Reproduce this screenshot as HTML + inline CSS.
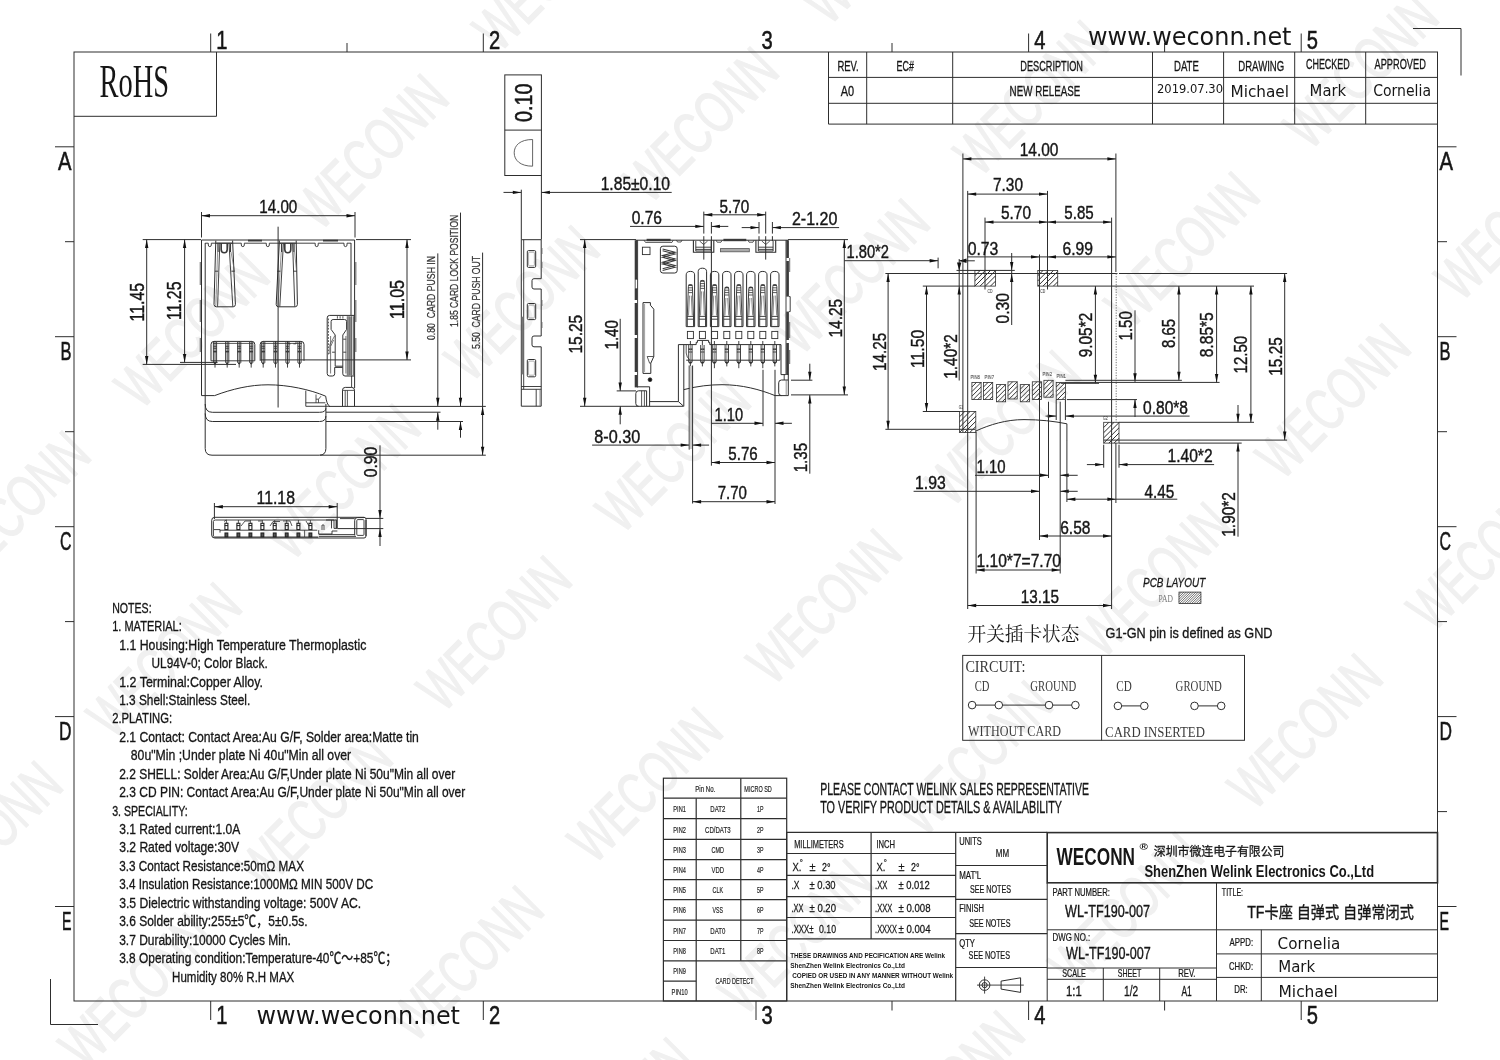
<!DOCTYPE html>
<html lang="en"><head><meta charset="utf-8"><title>WL-TF190-007 TF card socket drawing</title>
<style>html,body{margin:0;padding:0;background:#fff}body{width:1500px;height:1060px;overflow:hidden}svg{display:block;will-change:transform}text{white-space:pre}</style>
</head><body>
<svg width="1500" height="1060" viewBox="0 0 1500 1060">
<rect width="1500" height="1060" fill="#fff"/>
<g font-family='"Liberation Sans", sans-serif' font-size="60" fill="#f0f0f0" stroke="#f0f0f0" stroke-width="1.3" text-anchor="middle">
<text transform="translate(549.6 -27.3) rotate(-45)" x="0" y="21.5" textLength="186" lengthAdjust="spacingAndGlyphs">WECONN</text>
<text transform="translate(370.6 151.2) rotate(-45)" x="0" y="21.5" textLength="186" lengthAdjust="spacingAndGlyphs">WECONN</text>
<text transform="translate(191.6 329.7) rotate(-45)" x="0" y="21.5" textLength="186" lengthAdjust="spacingAndGlyphs">WECONN</text>
<text transform="translate(12.6 508.2) rotate(-45)" x="0" y="21.5" textLength="186" lengthAdjust="spacingAndGlyphs">WECONN</text>
<text transform="translate(879.6 -54.2) rotate(-45)" x="0" y="21.5" textLength="186" lengthAdjust="spacingAndGlyphs">WECONN</text>
<text transform="translate(700.6 124.3) rotate(-45)" x="0" y="21.5" textLength="186" lengthAdjust="spacingAndGlyphs">WECONN</text>
<text transform="translate(521.6 302.8) rotate(-45)" x="0" y="21.5" textLength="186" lengthAdjust="spacingAndGlyphs">WECONN</text>
<text transform="translate(342.6 481.3) rotate(-45)" x="0" y="21.5" textLength="186" lengthAdjust="spacingAndGlyphs">WECONN</text>
<text transform="translate(163.6 659.8) rotate(-45)" x="0" y="21.5" textLength="186" lengthAdjust="spacingAndGlyphs">WECONN</text>
<text transform="translate(-15.4 838.3) rotate(-45)" x="0" y="21.5" textLength="186" lengthAdjust="spacingAndGlyphs">WECONN</text>
<text transform="translate(1209.6 -81.1) rotate(-45)" x="0" y="21.5" textLength="186" lengthAdjust="spacingAndGlyphs">WECONN</text>
<text transform="translate(1030.6 97.4) rotate(-45)" x="0" y="21.5" textLength="186" lengthAdjust="spacingAndGlyphs">WECONN</text>
<text transform="translate(851.6 275.9) rotate(-45)" x="0" y="21.5" textLength="186" lengthAdjust="spacingAndGlyphs">WECONN</text>
<text transform="translate(672.6 454.4) rotate(-45)" x="0" y="21.5" textLength="186" lengthAdjust="spacingAndGlyphs">WECONN</text>
<text transform="translate(493.6 632.9) rotate(-45)" x="0" y="21.5" textLength="186" lengthAdjust="spacingAndGlyphs">WECONN</text>
<text transform="translate(314.6 811.4) rotate(-45)" x="0" y="21.5" textLength="186" lengthAdjust="spacingAndGlyphs">WECONN</text>
<text transform="translate(135.6 989.9) rotate(-45)" x="0" y="21.5" textLength="186" lengthAdjust="spacingAndGlyphs">WECONN</text>
<text transform="translate(-43.4 1168.4) rotate(-45)" x="0" y="21.5" textLength="186" lengthAdjust="spacingAndGlyphs">WECONN</text>
<text transform="translate(1539.6 -108) rotate(-45)" x="0" y="21.5" textLength="186" lengthAdjust="spacingAndGlyphs">WECONN</text>
<text transform="translate(1360.6 70.5) rotate(-45)" x="0" y="21.5" textLength="186" lengthAdjust="spacingAndGlyphs">WECONN</text>
<text transform="translate(1181.6 249) rotate(-45)" x="0" y="21.5" textLength="186" lengthAdjust="spacingAndGlyphs">WECONN</text>
<text transform="translate(1002.6 427.5) rotate(-45)" x="0" y="21.5" textLength="186" lengthAdjust="spacingAndGlyphs">WECONN</text>
<text transform="translate(823.6 606) rotate(-45)" x="0" y="21.5" textLength="186" lengthAdjust="spacingAndGlyphs">WECONN</text>
<text transform="translate(644.6 784.5) rotate(-45)" x="0" y="21.5" textLength="186" lengthAdjust="spacingAndGlyphs">WECONN</text>
<text transform="translate(465.6 963) rotate(-45)" x="0" y="21.5" textLength="186" lengthAdjust="spacingAndGlyphs">WECONN</text>
<text transform="translate(286.6 1141.5) rotate(-45)" x="0" y="21.5" textLength="186" lengthAdjust="spacingAndGlyphs">WECONN</text>
<text transform="translate(1511.6 222.1) rotate(-45)" x="0" y="21.5" textLength="186" lengthAdjust="spacingAndGlyphs">WECONN</text>
<text transform="translate(1332.6 400.6) rotate(-45)" x="0" y="21.5" textLength="186" lengthAdjust="spacingAndGlyphs">WECONN</text>
<text transform="translate(1153.6 579.1) rotate(-45)" x="0" y="21.5" textLength="186" lengthAdjust="spacingAndGlyphs">WECONN</text>
<text transform="translate(974.6 757.6) rotate(-45)" x="0" y="21.5" textLength="186" lengthAdjust="spacingAndGlyphs">WECONN</text>
<text transform="translate(795.6 936.1) rotate(-45)" x="0" y="21.5" textLength="186" lengthAdjust="spacingAndGlyphs">WECONN</text>
<text transform="translate(616.6 1114.6) rotate(-45)" x="0" y="21.5" textLength="186" lengthAdjust="spacingAndGlyphs">WECONN</text>
<text transform="translate(1483.6 552.2) rotate(-45)" x="0" y="21.5" textLength="186" lengthAdjust="spacingAndGlyphs">WECONN</text>
<text transform="translate(1304.6 730.7) rotate(-45)" x="0" y="21.5" textLength="186" lengthAdjust="spacingAndGlyphs">WECONN</text>
<text transform="translate(1125.6 909.2) rotate(-45)" x="0" y="21.5" textLength="186" lengthAdjust="spacingAndGlyphs">WECONN</text>
<text transform="translate(946.6 1087.7) rotate(-45)" x="0" y="21.5" textLength="186" lengthAdjust="spacingAndGlyphs">WECONN</text>
</g>
<g stroke-linecap="butt">
<rect x="74" y="52" width="1363.5" height="949" fill="none" stroke="#2e2e2e" stroke-width="1"/>
<line x1="210.7" y1="33.5" x2="210.7" y2="52" stroke="#2e2e2e" stroke-width="1"/>
<line x1="210.7" y1="1001" x2="210.7" y2="1020" stroke="#2e2e2e" stroke-width="1"/>
<text x="216.3" y="49" font-family='"Liberation Sans", sans-serif' font-size="24.86" fill="#161616" stroke="#161616" stroke-width="0.55" textLength="11.2" lengthAdjust="spacingAndGlyphs">1</text>
<text x="216.3" y="1024.3" font-family='"Liberation Sans", sans-serif' font-size="25.14" fill="#161616" stroke="#161616" stroke-width="0.55" textLength="11.2" lengthAdjust="spacingAndGlyphs">1</text>
<line x1="483.3" y1="33.5" x2="483.3" y2="52" stroke="#2e2e2e" stroke-width="1"/>
<line x1="483.3" y1="1001" x2="483.3" y2="1020" stroke="#2e2e2e" stroke-width="1"/>
<text x="488.9" y="49" font-family='"Liberation Sans", sans-serif' font-size="24.86" fill="#161616" stroke="#161616" stroke-width="0.55" textLength="11.2" lengthAdjust="spacingAndGlyphs">2</text>
<text x="488.9" y="1024.3" font-family='"Liberation Sans", sans-serif' font-size="25.14" fill="#161616" stroke="#161616" stroke-width="0.55" textLength="11.2" lengthAdjust="spacingAndGlyphs">2</text>
<line x1="756" y1="1001" x2="756" y2="1020" stroke="#2e2e2e" stroke-width="1"/>
<text x="761.6" y="49" font-family='"Liberation Sans", sans-serif' font-size="24.86" fill="#161616" stroke="#161616" stroke-width="0.55" textLength="11.2" lengthAdjust="spacingAndGlyphs">3</text>
<text x="761.6" y="1024.3" font-family='"Liberation Sans", sans-serif' font-size="25.14" fill="#161616" stroke="#161616" stroke-width="0.55" textLength="11.2" lengthAdjust="spacingAndGlyphs">3</text>
<line x1="1028.6" y1="33.5" x2="1028.6" y2="52" stroke="#2e2e2e" stroke-width="1"/>
<line x1="1028.6" y1="1001" x2="1028.6" y2="1020" stroke="#2e2e2e" stroke-width="1"/>
<text x="1034.2" y="49" font-family='"Liberation Sans", sans-serif' font-size="24.86" fill="#161616" stroke="#161616" stroke-width="0.55" textLength="11.2" lengthAdjust="spacingAndGlyphs">4</text>
<text x="1034.2" y="1024.3" font-family='"Liberation Sans", sans-serif' font-size="25.14" fill="#161616" stroke="#161616" stroke-width="0.55" textLength="11.2" lengthAdjust="spacingAndGlyphs">4</text>
<line x1="1301.2" y1="33.5" x2="1301.2" y2="52" stroke="#2e2e2e" stroke-width="1"/>
<line x1="1301.2" y1="1001" x2="1301.2" y2="1020" stroke="#2e2e2e" stroke-width="1"/>
<text x="1306.8" y="49" font-family='"Liberation Sans", sans-serif' font-size="24.86" fill="#161616" stroke="#161616" stroke-width="0.55" textLength="11.2" lengthAdjust="spacingAndGlyphs">5</text>
<text x="1306.8" y="1024.3" font-family='"Liberation Sans", sans-serif' font-size="25.14" fill="#161616" stroke="#161616" stroke-width="0.55" textLength="11.2" lengthAdjust="spacingAndGlyphs">5</text>
<line x1="347" y1="43" x2="347" y2="52" stroke="#2e2e2e" stroke-width="1"/>
<line x1="892" y1="43" x2="892" y2="52" stroke="#2e2e2e" stroke-width="1"/>
<line x1="892" y1="1001" x2="892" y2="1010.5" stroke="#2e2e2e" stroke-width="1"/>
<line x1="1164.6" y1="43" x2="1164.6" y2="52" stroke="#2e2e2e" stroke-width="1"/>
<line x1="1164.6" y1="1001" x2="1164.6" y2="1010.5" stroke="#2e2e2e" stroke-width="1"/>
<line x1="55" y1="146.8" x2="74" y2="146.8" stroke="#2e2e2e" stroke-width="1"/>
<line x1="1437.5" y1="146.8" x2="1456.5" y2="146.8" stroke="#2e2e2e" stroke-width="1"/>
<text x="58" y="170" font-family='"Liberation Sans", sans-serif' font-size="25.14" fill="#161616" stroke="#161616" stroke-width="0.55" textLength="13.5" lengthAdjust="spacingAndGlyphs">A</text>
<text x="1439.5" y="170" font-family='"Liberation Sans", sans-serif' font-size="25.14" fill="#161616" stroke="#161616" stroke-width="0.55" textLength="13.5" lengthAdjust="spacingAndGlyphs">A</text>
<line x1="55" y1="336.7" x2="74" y2="336.7" stroke="#2e2e2e" stroke-width="1"/>
<line x1="1437.5" y1="336.7" x2="1456.5" y2="336.7" stroke="#2e2e2e" stroke-width="1"/>
<text x="60.5" y="359.9" font-family='"Liberation Sans", sans-serif' font-size="25.14" fill="#161616" stroke="#161616" stroke-width="0.55" textLength="11" lengthAdjust="spacingAndGlyphs">B</text>
<text x="1439.5" y="359.9" font-family='"Liberation Sans", sans-serif' font-size="25.14" fill="#161616" stroke="#161616" stroke-width="0.55" textLength="11" lengthAdjust="spacingAndGlyphs">B</text>
<line x1="55" y1="526.7" x2="74" y2="526.7" stroke="#2e2e2e" stroke-width="1"/>
<line x1="1437.5" y1="526.7" x2="1456.5" y2="526.7" stroke="#2e2e2e" stroke-width="1"/>
<text x="60" y="549.9" font-family='"Liberation Sans", sans-serif' font-size="25.14" fill="#161616" stroke="#161616" stroke-width="0.55" textLength="11.5" lengthAdjust="spacingAndGlyphs">C</text>
<text x="1439.5" y="549.9" font-family='"Liberation Sans", sans-serif' font-size="25.14" fill="#161616" stroke="#161616" stroke-width="0.55" textLength="11.5" lengthAdjust="spacingAndGlyphs">C</text>
<line x1="55" y1="716.6" x2="74" y2="716.6" stroke="#2e2e2e" stroke-width="1"/>
<line x1="1437.5" y1="716.6" x2="1456.5" y2="716.6" stroke="#2e2e2e" stroke-width="1"/>
<text x="59" y="739.8" font-family='"Liberation Sans", sans-serif' font-size="25.14" fill="#161616" stroke="#161616" stroke-width="0.55" textLength="12.5" lengthAdjust="spacingAndGlyphs">D</text>
<text x="1439.5" y="739.8" font-family='"Liberation Sans", sans-serif' font-size="25.14" fill="#161616" stroke="#161616" stroke-width="0.55" textLength="12.5" lengthAdjust="spacingAndGlyphs">D</text>
<line x1="55" y1="906.5" x2="74" y2="906.5" stroke="#2e2e2e" stroke-width="1"/>
<line x1="1437.5" y1="906.5" x2="1456.5" y2="906.5" stroke="#2e2e2e" stroke-width="1"/>
<text x="62" y="929.7" font-family='"Liberation Sans", sans-serif' font-size="25.14" fill="#161616" stroke="#161616" stroke-width="0.55" textLength="9.5" lengthAdjust="spacingAndGlyphs">E</text>
<text x="1439.5" y="929.7" font-family='"Liberation Sans", sans-serif' font-size="25.14" fill="#161616" stroke="#161616" stroke-width="0.55" textLength="9.5" lengthAdjust="spacingAndGlyphs">E</text>
<line x1="65" y1="241.7" x2="74" y2="241.7" stroke="#2e2e2e" stroke-width="1"/>
<line x1="1437.5" y1="241.7" x2="1447" y2="241.7" stroke="#2e2e2e" stroke-width="1"/>
<line x1="65" y1="431.7" x2="74" y2="431.7" stroke="#2e2e2e" stroke-width="1"/>
<line x1="1437.5" y1="431.7" x2="1447" y2="431.7" stroke="#2e2e2e" stroke-width="1"/>
<line x1="65" y1="621.6" x2="74" y2="621.6" stroke="#2e2e2e" stroke-width="1"/>
<line x1="1437.5" y1="621.6" x2="1447" y2="621.6" stroke="#2e2e2e" stroke-width="1"/>
<line x1="1437.5" y1="811.6" x2="1447" y2="811.6" stroke="#2e2e2e" stroke-width="1"/>
<path d="M50.5 979 V1024.5 H98" fill="none" stroke="#2e2e2e" stroke-width="1"/>
<path d="M1413 28.5 H1461 V75.5" fill="none" stroke="#2e2e2e" stroke-width="1"/>
<path d="M74 116.3 H216.5 V52" fill="none" stroke="#2e2e2e" stroke-width="1"/>
<text x="99.5" y="97" font-family='"Liberation Serif", serif' font-size="46.56" fill="#161616" textLength="69.5" lengthAdjust="spacingAndGlyphs">RoHS</text>
<text x="1088" y="44.5" font-family='"DejaVu Sans", "Liberation Sans", sans-serif' font-size="24.5" fill="#161616" textLength="203.5" lengthAdjust="spacingAndGlyphs">www.weconn.net</text>
<text x="256.5" y="1023.5" font-family='"DejaVu Sans", "Liberation Sans", sans-serif' font-size="24.5" fill="#161616" textLength="203.5" lengthAdjust="spacingAndGlyphs">www.weconn.net</text>
<line x1="828.5" y1="52" x2="828.5" y2="124.1" stroke="#2e2e2e" stroke-width="1"/>
<line x1="866.7" y1="52" x2="866.7" y2="124.1" stroke="#2e2e2e" stroke-width="1"/>
<line x1="952.7" y1="52" x2="952.7" y2="124.1" stroke="#2e2e2e" stroke-width="1"/>
<line x1="1152.5" y1="52" x2="1152.5" y2="124.1" stroke="#2e2e2e" stroke-width="1"/>
<line x1="1223.6" y1="52" x2="1223.6" y2="124.1" stroke="#2e2e2e" stroke-width="1"/>
<line x1="1294.7" y1="52" x2="1294.7" y2="124.1" stroke="#2e2e2e" stroke-width="1"/>
<line x1="1365.7" y1="52" x2="1365.7" y2="124.1" stroke="#2e2e2e" stroke-width="1"/>
<line x1="828.5" y1="77.4" x2="1437.5" y2="77.4" stroke="#2e2e2e" stroke-width="1"/>
<line x1="828.5" y1="103.3" x2="1437.5" y2="103.3" stroke="#2e2e2e" stroke-width="1"/>
<line x1="828.5" y1="124.1" x2="1437.5" y2="124.1" stroke="#2e2e2e" stroke-width="1"/>
<text x="837.4" y="70.7" font-family='"Liberation Sans", sans-serif' font-size="14.11" fill="#161616" stroke="#161616" stroke-width="0.31" textLength="21.3" lengthAdjust="spacingAndGlyphs">REV.</text>
<text x="896.6" y="70.7" font-family='"Liberation Sans", sans-serif' font-size="14.11" fill="#161616" stroke="#161616" stroke-width="0.31" textLength="17.4" lengthAdjust="spacingAndGlyphs">EC#</text>
<text x="1020.3" y="70.7" font-family='"Liberation Sans", sans-serif' font-size="14.11" fill="#161616" stroke="#161616" stroke-width="0.31" textLength="62.7" lengthAdjust="spacingAndGlyphs">DESCRIPTION</text>
<text x="1174" y="70.7" font-family='"Liberation Sans", sans-serif' font-size="14.11" fill="#161616" stroke="#161616" stroke-width="0.31" textLength="24.8" lengthAdjust="spacingAndGlyphs">DATE</text>
<text x="1238.3" y="70.7" font-family='"Liberation Sans", sans-serif' font-size="14.11" fill="#161616" stroke="#161616" stroke-width="0.31" textLength="45.9" lengthAdjust="spacingAndGlyphs">DRAWING</text>
<text x="1306" y="68.7" font-family='"Liberation Sans", sans-serif' font-size="13.97" fill="#161616" stroke="#161616" stroke-width="0.31" textLength="43.7" lengthAdjust="spacingAndGlyphs">CHECKED</text>
<text x="1374.5" y="68.7" font-family='"Liberation Sans", sans-serif' font-size="13.97" fill="#161616" stroke="#161616" stroke-width="0.31" textLength="51.3" lengthAdjust="spacingAndGlyphs">APPROVED</text>
<text x="840.8" y="95.6" font-family='"Liberation Sans", sans-serif' font-size="14.25" fill="#161616" stroke="#161616" stroke-width="0.31" textLength="13.4" lengthAdjust="spacingAndGlyphs">A0</text>
<text x="1009.6" y="96" font-family='"Liberation Sans", sans-serif' font-size="14.8" fill="#161616" stroke="#161616" stroke-width="0.33" textLength="70.7" lengthAdjust="spacingAndGlyphs">NEW RELEASE</text>
<text x="1157" y="93.4" font-family='"DejaVu Sans", "Liberation Sans", sans-serif' font-size="12.89" fill="#161616" textLength="66" lengthAdjust="spacingAndGlyphs">2019.07.30</text>
<text x="1230.5" y="97.2" font-family='"DejaVu Sans", "Liberation Sans", sans-serif' font-size="16.05" fill="#161616" textLength="58.5" lengthAdjust="spacingAndGlyphs">Michael</text>
<text x="1309.6" y="96" font-family='"DejaVu Sans", "Liberation Sans", sans-serif' font-size="15.78" fill="#161616" textLength="36.6" lengthAdjust="spacingAndGlyphs">Mark</text>
<text x="1373.2" y="96" font-family='"DejaVu Sans", "Liberation Sans", sans-serif' font-size="15.78" fill="#161616" textLength="57.8" lengthAdjust="spacingAndGlyphs">Cornelia</text>
<text x="112.2" y="612.9" font-family='"Liberation Sans", "Noto Sans CJK SC", sans-serif' font-size="14.53" fill="#161616" stroke="#161616" stroke-width="0.32" textLength="39.4" lengthAdjust="spacingAndGlyphs">NOTES:</text>
<text x="112.2" y="631.33" font-family='"Liberation Sans", "Noto Sans CJK SC", sans-serif' font-size="14.53" fill="#161616" stroke="#161616" stroke-width="0.32" textLength="69.6" lengthAdjust="spacingAndGlyphs">1. MATERIAL:</text>
<text x="119.2" y="649.76" font-family='"Liberation Sans", "Noto Sans CJK SC", sans-serif' font-size="14.53" fill="#161616" stroke="#161616" stroke-width="0.32" textLength="247.1" lengthAdjust="spacingAndGlyphs">1.1 Housing:High Temperature Thermoplastic</text>
<text x="151.6" y="668.19" font-family='"Liberation Sans", "Noto Sans CJK SC", sans-serif' font-size="14.53" fill="#161616" stroke="#161616" stroke-width="0.32" textLength="116.1" lengthAdjust="spacingAndGlyphs">UL94V-0; Color Black.</text>
<text x="119.2" y="686.62" font-family='"Liberation Sans", "Noto Sans CJK SC", sans-serif' font-size="14.53" fill="#161616" stroke="#161616" stroke-width="0.32" textLength="143.8" lengthAdjust="spacingAndGlyphs">1.2 Terminal:Copper Alloy.</text>
<text x="119.2" y="705.05" font-family='"Liberation Sans", "Noto Sans CJK SC", sans-serif' font-size="14.53" fill="#161616" stroke="#161616" stroke-width="0.32" textLength="131.1" lengthAdjust="spacingAndGlyphs">1.3 Shell:Stainless Steel.</text>
<text x="112.2" y="723.48" font-family='"Liberation Sans", "Noto Sans CJK SC", sans-serif' font-size="14.53" fill="#161616" stroke="#161616" stroke-width="0.32" textLength="59.9" lengthAdjust="spacingAndGlyphs">2.PLATING:</text>
<text x="119.2" y="741.91" font-family='"Liberation Sans", "Noto Sans CJK SC", sans-serif' font-size="14.53" fill="#161616" stroke="#161616" stroke-width="0.32" textLength="299.7" lengthAdjust="spacingAndGlyphs">2.1 Contact: Contact Area:Au G/F, Solder area:Matte tin</text>
<text x="130.8" y="760.34" font-family='"Liberation Sans", "Noto Sans CJK SC", sans-serif' font-size="14.53" fill="#161616" stroke="#161616" stroke-width="0.32" textLength="220.4" lengthAdjust="spacingAndGlyphs">80u"Min ;Under plate Ni 40u"Min all over</text>
<text x="119.2" y="778.77" font-family='"Liberation Sans", "Noto Sans CJK SC", sans-serif' font-size="14.53" fill="#161616" stroke="#161616" stroke-width="0.32" textLength="336" lengthAdjust="spacingAndGlyphs">2.2 SHELL: Solder Area:Au G/F,Under plate Ni 50u"Min all over</text>
<text x="119.2" y="797.2" font-family='"Liberation Sans", "Noto Sans CJK SC", sans-serif' font-size="14.53" fill="#161616" stroke="#161616" stroke-width="0.32" textLength="346.1" lengthAdjust="spacingAndGlyphs">2.3 CD PIN: Contact Area:Au G/F,Under plate Ni 50u"Min all over</text>
<text x="112.2" y="815.63" font-family='"Liberation Sans", "Noto Sans CJK SC", sans-serif' font-size="14.53" fill="#161616" stroke="#161616" stroke-width="0.32" textLength="75.4" lengthAdjust="spacingAndGlyphs">3. SPECIALITY:</text>
<text x="119.2" y="834.06" font-family='"Liberation Sans", "Noto Sans CJK SC", sans-serif' font-size="14.53" fill="#161616" stroke="#161616" stroke-width="0.32" textLength="121" lengthAdjust="spacingAndGlyphs">3.1 Rated current:1.0A</text>
<text x="119.2" y="852.49" font-family='"Liberation Sans", "Noto Sans CJK SC", sans-serif' font-size="14.53" fill="#161616" stroke="#161616" stroke-width="0.32" textLength="119.8" lengthAdjust="spacingAndGlyphs">3.2 Rated voltage:30V</text>
<text x="119.2" y="870.92" font-family='"Liberation Sans", "Noto Sans CJK SC", sans-serif' font-size="14.53" fill="#161616" stroke="#161616" stroke-width="0.32" textLength="184.8" lengthAdjust="spacingAndGlyphs">3.3 Contact Resistance:50mΩ MAX</text>
<text x="119.2" y="889.35" font-family='"Liberation Sans", "Noto Sans CJK SC", sans-serif' font-size="14.53" fill="#161616" stroke="#161616" stroke-width="0.32" textLength="254" lengthAdjust="spacingAndGlyphs">3.4 Insulation Resistance:1000MΩ MIN 500V DC</text>
<text x="119.2" y="907.78" font-family='"Liberation Sans", "Noto Sans CJK SC", sans-serif' font-size="14.53" fill="#161616" stroke="#161616" stroke-width="0.32" textLength="242" lengthAdjust="spacingAndGlyphs">3.5 Dielectric withstanding voltage: 500V AC.</text>
<text x="119.2" y="926.21" font-family='"Liberation Sans", "Noto Sans CJK SC", sans-serif' font-size="14.53" fill="#161616" stroke="#161616" stroke-width="0.32" textLength="188.3" lengthAdjust="spacingAndGlyphs">3.6 Solder ability:255±5℃，5±0.5s.</text>
<text x="119.2" y="944.64" font-family='"Liberation Sans", "Noto Sans CJK SC", sans-serif' font-size="14.53" fill="#161616" stroke="#161616" stroke-width="0.32" textLength="171.7" lengthAdjust="spacingAndGlyphs">3.7 Durability:10000 Cycles Min.</text>
<text x="119.2" y="963.07" font-family='"Liberation Sans", "Noto Sans CJK SC", sans-serif' font-size="14.53" fill="#161616" stroke="#161616" stroke-width="0.32" textLength="278" lengthAdjust="spacingAndGlyphs">3.8 Operating condition:Temperature-40℃～+85℃；</text>
<text x="172.1" y="981.5" font-family='"Liberation Sans", "Noto Sans CJK SC", sans-serif' font-size="14.53" fill="#161616" stroke="#161616" stroke-width="0.32" textLength="122.2" lengthAdjust="spacingAndGlyphs">Humidity 80% R.H MAX</text>
<rect x="663.4" y="778.2" width="123.3" height="222.8" fill="none" stroke="#2e2e2e" stroke-width="1.2"/>
<line x1="663.4" y1="798.2" x2="786.7" y2="798.2" stroke="#2e2e2e" stroke-width="1.2"/>
<line x1="663.4" y1="818.7" x2="786.7" y2="818.7" stroke="#2e2e2e" stroke-width="1.2"/>
<line x1="663.4" y1="839.3" x2="786.7" y2="839.3" stroke="#2e2e2e" stroke-width="1.2"/>
<line x1="663.4" y1="859.6" x2="786.7" y2="859.6" stroke="#2e2e2e" stroke-width="1.2"/>
<line x1="663.4" y1="879.6" x2="786.7" y2="879.6" stroke="#2e2e2e" stroke-width="1.2"/>
<line x1="663.4" y1="899.7" x2="786.7" y2="899.7" stroke="#2e2e2e" stroke-width="1.2"/>
<line x1="663.4" y1="920.2" x2="786.7" y2="920.2" stroke="#2e2e2e" stroke-width="1.2"/>
<line x1="663.4" y1="940.5" x2="786.7" y2="940.5" stroke="#2e2e2e" stroke-width="1.2"/>
<line x1="663.4" y1="960.8" x2="786.7" y2="960.8" stroke="#2e2e2e" stroke-width="1.2"/>
<line x1="663.4" y1="981.1" x2="696.2" y2="981.1" stroke="#2e2e2e" stroke-width="1.2"/>
<line x1="696.2" y1="798.2" x2="696.2" y2="1001" stroke="#2e2e2e" stroke-width="1.2"/>
<line x1="740.8" y1="778.2" x2="740.8" y2="960.8" stroke="#2e2e2e" stroke-width="1.2"/>
<text x="695.3" y="791.7" font-family='"Liberation Sans", sans-serif' font-size="8.66" fill="#262626" stroke="#262626" stroke-width="0.19" textLength="20" lengthAdjust="spacingAndGlyphs">Pin No.</text>
<text x="744.35" y="791.7" font-family='"Liberation Sans", sans-serif' font-size="8.66" fill="#262626" stroke="#262626" stroke-width="0.19" textLength="27.5" lengthAdjust="spacingAndGlyphs">MICRO SD</text>
<text x="673.35" y="811.95" font-family='"Liberation Sans", sans-serif' font-size="8.66" fill="#262626" stroke="#262626" stroke-width="0.19" textLength="12.5" lengthAdjust="spacingAndGlyphs">PIN1</text>
<text x="710.3" y="811.95" font-family='"Liberation Sans", sans-serif' font-size="8.66" fill="#262626" stroke="#262626" stroke-width="0.19" textLength="15" lengthAdjust="spacingAndGlyphs">DAT2</text>
<text x="757.05" y="811.95" font-family='"Liberation Sans", sans-serif' font-size="8.66" fill="#262626" stroke="#262626" stroke-width="0.19" textLength="6.5" lengthAdjust="spacingAndGlyphs">1P</text>
<text x="673.35" y="832.5" font-family='"Liberation Sans", sans-serif' font-size="8.66" fill="#262626" stroke="#262626" stroke-width="0.19" textLength="12.5" lengthAdjust="spacingAndGlyphs">PIN2</text>
<text x="705.05" y="832.5" font-family='"Liberation Sans", sans-serif' font-size="8.66" fill="#262626" stroke="#262626" stroke-width="0.19" textLength="25.5" lengthAdjust="spacingAndGlyphs">CD/DAT3</text>
<text x="757.05" y="832.5" font-family='"Liberation Sans", sans-serif' font-size="8.66" fill="#262626" stroke="#262626" stroke-width="0.19" textLength="6.5" lengthAdjust="spacingAndGlyphs">2P</text>
<text x="673.35" y="852.95" font-family='"Liberation Sans", sans-serif' font-size="8.66" fill="#262626" stroke="#262626" stroke-width="0.19" textLength="12.5" lengthAdjust="spacingAndGlyphs">PIN3</text>
<text x="711.55" y="852.95" font-family='"Liberation Sans", sans-serif' font-size="8.66" fill="#262626" stroke="#262626" stroke-width="0.19" textLength="12.5" lengthAdjust="spacingAndGlyphs">CMD</text>
<text x="757.05" y="852.95" font-family='"Liberation Sans", sans-serif' font-size="8.66" fill="#262626" stroke="#262626" stroke-width="0.19" textLength="6.5" lengthAdjust="spacingAndGlyphs">3P</text>
<text x="673.35" y="873.1" font-family='"Liberation Sans", sans-serif' font-size="8.66" fill="#262626" stroke="#262626" stroke-width="0.19" textLength="12.5" lengthAdjust="spacingAndGlyphs">PIN4</text>
<text x="711.55" y="873.1" font-family='"Liberation Sans", sans-serif' font-size="8.66" fill="#262626" stroke="#262626" stroke-width="0.19" textLength="12.5" lengthAdjust="spacingAndGlyphs">VDD</text>
<text x="757.05" y="873.1" font-family='"Liberation Sans", sans-serif' font-size="8.66" fill="#262626" stroke="#262626" stroke-width="0.19" textLength="6.5" lengthAdjust="spacingAndGlyphs">4P</text>
<text x="673.35" y="893.15" font-family='"Liberation Sans", sans-serif' font-size="8.66" fill="#262626" stroke="#262626" stroke-width="0.19" textLength="12.5" lengthAdjust="spacingAndGlyphs">PIN5</text>
<text x="712.55" y="893.15" font-family='"Liberation Sans", sans-serif' font-size="8.66" fill="#262626" stroke="#262626" stroke-width="0.19" textLength="10.5" lengthAdjust="spacingAndGlyphs">CLK</text>
<text x="757.05" y="893.15" font-family='"Liberation Sans", sans-serif' font-size="8.66" fill="#262626" stroke="#262626" stroke-width="0.19" textLength="6.5" lengthAdjust="spacingAndGlyphs">5P</text>
<text x="673.35" y="913.45" font-family='"Liberation Sans", sans-serif' font-size="8.66" fill="#262626" stroke="#262626" stroke-width="0.19" textLength="12.5" lengthAdjust="spacingAndGlyphs">PIN6</text>
<text x="712.55" y="913.45" font-family='"Liberation Sans", sans-serif' font-size="8.66" fill="#262626" stroke="#262626" stroke-width="0.19" textLength="10.5" lengthAdjust="spacingAndGlyphs">VSS</text>
<text x="757.05" y="913.45" font-family='"Liberation Sans", sans-serif' font-size="8.66" fill="#262626" stroke="#262626" stroke-width="0.19" textLength="6.5" lengthAdjust="spacingAndGlyphs">6P</text>
<text x="673.35" y="933.85" font-family='"Liberation Sans", sans-serif' font-size="8.66" fill="#262626" stroke="#262626" stroke-width="0.19" textLength="12.5" lengthAdjust="spacingAndGlyphs">PIN7</text>
<text x="710.3" y="933.85" font-family='"Liberation Sans", sans-serif' font-size="8.66" fill="#262626" stroke="#262626" stroke-width="0.19" textLength="15" lengthAdjust="spacingAndGlyphs">DAT0</text>
<text x="757.05" y="933.85" font-family='"Liberation Sans", sans-serif' font-size="8.66" fill="#262626" stroke="#262626" stroke-width="0.19" textLength="6.5" lengthAdjust="spacingAndGlyphs">7P</text>
<text x="673.35" y="954.15" font-family='"Liberation Sans", sans-serif' font-size="8.66" fill="#262626" stroke="#262626" stroke-width="0.19" textLength="12.5" lengthAdjust="spacingAndGlyphs">PIN8</text>
<text x="710.3" y="954.15" font-family='"Liberation Sans", sans-serif' font-size="8.66" fill="#262626" stroke="#262626" stroke-width="0.19" textLength="15" lengthAdjust="spacingAndGlyphs">DAT1</text>
<text x="757.05" y="954.15" font-family='"Liberation Sans", sans-serif' font-size="8.66" fill="#262626" stroke="#262626" stroke-width="0.19" textLength="6.5" lengthAdjust="spacingAndGlyphs">8P</text>
<text x="673.35" y="974.45" font-family='"Liberation Sans", sans-serif' font-size="8.66" fill="#262626" stroke="#262626" stroke-width="0.19" textLength="12.5" lengthAdjust="spacingAndGlyphs">PIN9</text>
<text x="671.6" y="994.55" font-family='"Liberation Sans", sans-serif' font-size="8.66" fill="#262626" stroke="#262626" stroke-width="0.19" textLength="16" lengthAdjust="spacingAndGlyphs">PIN10</text>
<text x="715.4" y="984.4" font-family='"Liberation Sans", sans-serif' font-size="8.66" fill="#262626" stroke="#262626" stroke-width="0.19" textLength="38" lengthAdjust="spacingAndGlyphs">CARD DETECT</text>
<line x1="786.7" y1="832.3" x2="786.7" y2="1001" stroke="#2e2e2e" stroke-width="1.2"/>
<line x1="871.1" y1="832.3" x2="871.1" y2="938.9" stroke="#2e2e2e" stroke-width="1.2"/>
<line x1="955.7" y1="832.3" x2="955.7" y2="1001" stroke="#2e2e2e" stroke-width="1.2"/>
<line x1="786.7" y1="832.3" x2="1047.2" y2="832.3" stroke="#2e2e2e" stroke-width="1.2"/>
<line x1="786.7" y1="853.5" x2="955.7" y2="853.5" stroke="#2e2e2e" stroke-width="1.2"/>
<line x1="786.7" y1="875.4" x2="955.7" y2="875.4" stroke="#2e2e2e" stroke-width="1.2"/>
<line x1="786.7" y1="896.7" x2="955.7" y2="896.7" stroke="#2e2e2e" stroke-width="1.2"/>
<line x1="786.7" y1="917.5" x2="955.7" y2="917.5" stroke="#2e2e2e" stroke-width="1.2"/>
<line x1="786.7" y1="938.9" x2="955.7" y2="938.9" stroke="#2e2e2e" stroke-width="1.2"/>
<line x1="955.7" y1="865.5" x2="1047.2" y2="865.5" stroke="#2e2e2e" stroke-width="1.2"/>
<line x1="955.7" y1="899.4" x2="1047.2" y2="899.4" stroke="#2e2e2e" stroke-width="1.2"/>
<line x1="955.7" y1="933.6" x2="1047.2" y2="933.6" stroke="#2e2e2e" stroke-width="1.2"/>
<line x1="955.7" y1="967.5" x2="1047.2" y2="967.5" stroke="#2e2e2e" stroke-width="1.2"/>
<text x="820.2" y="794.8" font-family='"Liberation Sans", sans-serif' font-size="15.64" fill="#161616" stroke="#161616" stroke-width="0.34" textLength="268.8" lengthAdjust="spacingAndGlyphs">PLEASE CONTACT WELINK SALES REPRESENTATIVE</text>
<text x="820.2" y="812.7" font-family='"Liberation Sans", sans-serif' font-size="15.64" fill="#161616" stroke="#161616" stroke-width="0.34" textLength="241.8" lengthAdjust="spacingAndGlyphs">TO VERIFY PRODUCT DETAILS &amp; AVAILABILITY</text>
<text x="794.2" y="848.3" font-family='"Liberation Sans", sans-serif' font-size="11.45" fill="#161616" stroke="#161616" stroke-width="0.25" textLength="49.4" lengthAdjust="spacingAndGlyphs">MILLIMETERS</text>
<text x="876.4" y="848.3" font-family='"Liberation Sans", sans-serif' font-size="11.45" fill="#161616" stroke="#161616" stroke-width="0.25" textLength="18.7" lengthAdjust="spacingAndGlyphs">INCH</text>
<text x="792.6" y="870.5" font-family='"Liberation Sans", sans-serif' font-size="11.6" fill="#161616" stroke="#161616" stroke-width="0.26" textLength="8.9" lengthAdjust="spacingAndGlyphs">X.</text>
<text x="799.5" y="864.5" font-family='"Liberation Sans", sans-serif' font-size="7" fill="#161616" stroke="#161616" stroke-width="0.15" textLength="3.5" lengthAdjust="spacingAndGlyphs">°</text>
<text x="809.5" y="870.5" font-family='"Liberation Sans", sans-serif' font-size="11.6" fill="#161616" stroke="#161616" stroke-width="0.26" textLength="6" lengthAdjust="spacingAndGlyphs">±</text>
<text x="822" y="870.5" font-family='"Liberation Sans", sans-serif' font-size="11.6" fill="#161616" stroke="#161616" stroke-width="0.26" textLength="8.5" lengthAdjust="spacingAndGlyphs">2°</text>
<text x="876.6" y="870.5" font-family='"Liberation Sans", sans-serif' font-size="11.6" fill="#161616" stroke="#161616" stroke-width="0.26" textLength="8.9" lengthAdjust="spacingAndGlyphs">X.</text>
<text x="883.5" y="864.5" font-family='"Liberation Sans", sans-serif' font-size="7" fill="#161616" stroke="#161616" stroke-width="0.15" textLength="3.5" lengthAdjust="spacingAndGlyphs">°</text>
<text x="898.5" y="870.5" font-family='"Liberation Sans", sans-serif' font-size="11.6" fill="#161616" stroke="#161616" stroke-width="0.26" textLength="6" lengthAdjust="spacingAndGlyphs">±</text>
<text x="911" y="870.5" font-family='"Liberation Sans", sans-serif' font-size="11.6" fill="#161616" stroke="#161616" stroke-width="0.26" textLength="8.5" lengthAdjust="spacingAndGlyphs">2°</text>
<text x="791.5" y="889" font-family='"Liberation Sans", sans-serif' font-size="11.6" fill="#161616" stroke="#161616" stroke-width="0.26" textLength="8" lengthAdjust="spacingAndGlyphs">.X</text>
<text x="809.5" y="889" font-family='"Liberation Sans", sans-serif' font-size="11.6" fill="#161616" stroke="#161616" stroke-width="0.26" textLength="26.1" lengthAdjust="spacingAndGlyphs">± 0.30</text>
<text x="791.5" y="911.6" font-family='"Liberation Sans", sans-serif' font-size="11.6" fill="#161616" stroke="#161616" stroke-width="0.26" textLength="12" lengthAdjust="spacingAndGlyphs">.XX</text>
<text x="809.5" y="911.6" font-family='"Liberation Sans", sans-serif' font-size="11.6" fill="#161616" stroke="#161616" stroke-width="0.26" textLength="26.5" lengthAdjust="spacingAndGlyphs">± 0.20</text>
<text x="791.5" y="933" font-family='"Liberation Sans", sans-serif' font-size="11.6" fill="#161616" stroke="#161616" stroke-width="0.26" textLength="22" lengthAdjust="spacingAndGlyphs">.XXX±</text>
<text x="819" y="933" font-family='"Liberation Sans", sans-serif' font-size="11.6" fill="#161616" stroke="#161616" stroke-width="0.26" textLength="17" lengthAdjust="spacingAndGlyphs">0.10</text>
<text x="875.1" y="889" font-family='"Liberation Sans", sans-serif' font-size="11.6" fill="#161616" stroke="#161616" stroke-width="0.26" textLength="12.4" lengthAdjust="spacingAndGlyphs">.XX</text>
<text x="898.5" y="889" font-family='"Liberation Sans", sans-serif' font-size="11.6" fill="#161616" stroke="#161616" stroke-width="0.26" textLength="31.3" lengthAdjust="spacingAndGlyphs">± 0.012</text>
<text x="875.1" y="911.6" font-family='"Liberation Sans", sans-serif' font-size="11.6" fill="#161616" stroke="#161616" stroke-width="0.26" textLength="17.2" lengthAdjust="spacingAndGlyphs">.XXX</text>
<text x="898.5" y="911.6" font-family='"Liberation Sans", sans-serif' font-size="11.6" fill="#161616" stroke="#161616" stroke-width="0.26" textLength="32" lengthAdjust="spacingAndGlyphs">± 0.008</text>
<text x="875.1" y="933" font-family='"Liberation Sans", sans-serif' font-size="11.6" fill="#161616" stroke="#161616" stroke-width="0.26" textLength="21.9" lengthAdjust="spacingAndGlyphs">.XXXX</text>
<text x="898.5" y="933" font-family='"Liberation Sans", sans-serif' font-size="11.6" fill="#161616" stroke="#161616" stroke-width="0.26" textLength="32" lengthAdjust="spacingAndGlyphs">± 0.004</text>
<text x="790.2" y="958" font-family='"Liberation Sans", sans-serif' font-size="7.4" fill="#161616" font-weight="bold" textLength="154.9" lengthAdjust="spacingAndGlyphs">THESE DRAWINGS AND PECIFICATION ARE Welink</text>
<text x="790.2" y="968.1" font-family='"Liberation Sans", sans-serif' font-size="7.4" fill="#161616" font-weight="bold" textLength="114.8" lengthAdjust="spacingAndGlyphs">ShenZhen Welink Electronics Co.,Ltd</text>
<text x="792.3" y="977.8" font-family='"Liberation Sans", sans-serif' font-size="7.4" fill="#161616" font-weight="bold" textLength="160.8" lengthAdjust="spacingAndGlyphs">COPIED OR USED IN ANY MANNER WITHOUT Welink</text>
<text x="790.2" y="988.1" font-family='"Liberation Sans", sans-serif' font-size="7.4" fill="#161616" font-weight="bold" textLength="114.8" lengthAdjust="spacingAndGlyphs">ShenZhen Welink Electronics Co.,Ltd</text>
<text x="959.2" y="844.6" font-family='"Liberation Sans", sans-serif' font-size="10.34" fill="#161616" stroke="#161616" stroke-width="0.23" textLength="22.7" lengthAdjust="spacingAndGlyphs">UNITS</text>
<text x="995.8" y="857.2" font-family='"Liberation Sans", sans-serif' font-size="10.34" fill="#161616" stroke="#161616" stroke-width="0.23" textLength="13.3" lengthAdjust="spacingAndGlyphs">MM</text>
<text x="959.2" y="878.6" font-family='"Liberation Sans", sans-serif' font-size="10.61" fill="#161616" stroke="#161616" stroke-width="0.23" textLength="22.1" lengthAdjust="spacingAndGlyphs">MAT'L</text>
<text x="969.9" y="892.5" font-family='"Liberation Sans", sans-serif' font-size="10.61" fill="#161616" stroke="#161616" stroke-width="0.23" textLength="41.1" lengthAdjust="spacingAndGlyphs">SEE NOTES</text>
<text x="959.2" y="912.3" font-family='"Liberation Sans", sans-serif' font-size="10.61" fill="#161616" stroke="#161616" stroke-width="0.23" textLength="24.8" lengthAdjust="spacingAndGlyphs">FINISH</text>
<text x="969.2" y="926.7" font-family='"Liberation Sans", sans-serif' font-size="10.61" fill="#161616" stroke="#161616" stroke-width="0.23" textLength="41.3" lengthAdjust="spacingAndGlyphs">SEE NOTES</text>
<text x="959.2" y="947" font-family='"Liberation Sans", sans-serif' font-size="10.61" fill="#161616" stroke="#161616" stroke-width="0.23" textLength="15.8" lengthAdjust="spacingAndGlyphs">QTY</text>
<text x="968.6" y="959.3" font-family='"Liberation Sans", sans-serif' font-size="10.61" fill="#161616" stroke="#161616" stroke-width="0.23" textLength="41.4" lengthAdjust="spacingAndGlyphs">SEE NOTES</text>
<circle cx="984.6" cy="985.1" r="5.3" fill="none" stroke="#2e2e2e" stroke-width="1"/>
<circle cx="984.6" cy="985.1" r="2.6" fill="none" stroke="#2e2e2e" stroke-width="1"/>
<line x1="977" y1="985.1" x2="1023.8" y2="985.1" stroke="#2e2e2e" stroke-width="0.9"/>
<line x1="984.6" y1="976.6" x2="984.6" y2="993.6" stroke="#2e2e2e" stroke-width="0.9"/>
<path d="M1001.1 981.1 L1020.6 977.8 V992.4 L1001.1 989.1 Z" fill="none" stroke="#2e2e2e" stroke-width="1"/>
<rect x="1047.2" y="832.6" width="390.3" height="50.2" fill="none" stroke="#2e2e2e" stroke-width="1.6"/>
<line x1="1047.2" y1="929.8" x2="1437.5" y2="929.8" stroke="#2e2e2e" stroke-width="1"/>
<line x1="1216.5" y1="882.8" x2="1216.5" y2="1001" stroke="#2e2e2e" stroke-width="1"/>
<line x1="1047.2" y1="882.8" x2="1047.2" y2="1001" stroke="#2e2e2e" stroke-width="1"/>
<line x1="1047.2" y1="968" x2="1216.5" y2="968" stroke="#2e2e2e" stroke-width="1"/>
<line x1="1047.2" y1="979.3" x2="1216.5" y2="979.3" stroke="#2e2e2e" stroke-width="1"/>
<line x1="1103.3" y1="968" x2="1103.3" y2="1001" stroke="#2e2e2e" stroke-width="1"/>
<line x1="1159.7" y1="968" x2="1159.7" y2="1001" stroke="#2e2e2e" stroke-width="1"/>
<line x1="1216.5" y1="953.9" x2="1437.5" y2="953.9" stroke="#2e2e2e" stroke-width="1"/>
<line x1="1216.5" y1="977.4" x2="1437.5" y2="977.4" stroke="#2e2e2e" stroke-width="1"/>
<line x1="1261.3" y1="929.8" x2="1261.3" y2="1001" stroke="#2e2e2e" stroke-width="1"/>
<text x="1056.6" y="865.4" font-family='"Liberation Sans", sans-serif' font-size="23.04" fill="#161616" font-weight="bold" textLength="78.4" lengthAdjust="spacingAndGlyphs">WECONN</text>
<text x="1139.6" y="849.5" font-family='"Liberation Sans", sans-serif' font-size="9.5" fill="#161616" font-weight="bold" textLength="8.4" lengthAdjust="spacingAndGlyphs">®</text>
<text x="1153.8" y="855.6" font-family='"Liberation Sans", "Noto Sans CJK SC", sans-serif' font-size="12.2" fill="#161616" stroke="#161616" stroke-width="0.27" textLength="130.7" lengthAdjust="spacingAndGlyphs">深圳市微连电子有限公司</text>
<text x="1144.4" y="877" font-family='"Liberation Sans", sans-serif' font-size="15.95" fill="#161616" font-weight="bold" textLength="229.7" lengthAdjust="spacingAndGlyphs">ShenZhen Welink Electronics Co.,Ltd</text>
<text x="1052.6" y="896.1" font-family='"Liberation Sans", sans-serif' font-size="10.34" fill="#161616" stroke="#161616" stroke-width="0.23" textLength="57.3" lengthAdjust="spacingAndGlyphs">PART NUMBER:</text>
<text x="1065.1" y="917.4" font-family='"Liberation Sans", sans-serif' font-size="16.76" fill="#161616" stroke="#161616" stroke-width="0.37" textLength="84.9" lengthAdjust="spacingAndGlyphs">WL-TF190-007</text>
<text x="1221.8" y="896.1" font-family='"Liberation Sans", sans-serif' font-size="10.34" fill="#161616" stroke="#161616" stroke-width="0.23" textLength="21.3" lengthAdjust="spacingAndGlyphs">TITLE:</text>
<text x="1247.2" y="917.8" font-family='"Liberation Sans", "Noto Sans CJK SC", sans-serif' font-size="16.3" fill="#161616" stroke="#161616" stroke-width="0.36" textLength="166.7" lengthAdjust="spacingAndGlyphs">TF卡座 自弹式 自弹常闭式</text>
<text x="1052.6" y="941" font-family='"Liberation Sans", sans-serif' font-size="10.34" fill="#161616" stroke="#161616" stroke-width="0.23" textLength="37.6" lengthAdjust="spacingAndGlyphs">DWG NO.:</text>
<text x="1066" y="958.8" font-family='"Liberation Sans", sans-serif' font-size="16.76" fill="#161616" stroke="#161616" stroke-width="0.37" textLength="84.7" lengthAdjust="spacingAndGlyphs">WL-TF190-007</text>
<text x="1062.3" y="976.7" font-family='"Liberation Sans", sans-serif' font-size="10.34" fill="#161616" stroke="#161616" stroke-width="0.23" textLength="23.5" lengthAdjust="spacingAndGlyphs">SCALE</text>
<text x="1117.7" y="976.7" font-family='"Liberation Sans", sans-serif' font-size="10.34" fill="#161616" stroke="#161616" stroke-width="0.23" textLength="23.5" lengthAdjust="spacingAndGlyphs">SHEET</text>
<text x="1178.2" y="976.7" font-family='"Liberation Sans", sans-serif' font-size="10.34" fill="#161616" stroke="#161616" stroke-width="0.23" textLength="17.3" lengthAdjust="spacingAndGlyphs">REV.</text>
<text x="1066" y="996.2" font-family='"Liberation Sans", sans-serif' font-size="13.97" fill="#161616" stroke="#161616" stroke-width="0.31" textLength="15.7" lengthAdjust="spacingAndGlyphs">1:1</text>
<text x="1124" y="996.2" font-family='"Liberation Sans", sans-serif' font-size="13.97" fill="#161616" stroke="#161616" stroke-width="0.31" textLength="14.1" lengthAdjust="spacingAndGlyphs">1/2</text>
<text x="1181.4" y="996.2" font-family='"Liberation Sans", sans-serif' font-size="13.97" fill="#161616" stroke="#161616" stroke-width="0.31" textLength="10.3" lengthAdjust="spacingAndGlyphs">A1</text>
<text x="1229.6" y="946.3" font-family='"Liberation Sans", sans-serif' font-size="10.34" fill="#161616" stroke="#161616" stroke-width="0.23" textLength="23.5" lengthAdjust="spacingAndGlyphs">APPD:</text>
<text x="1229" y="969.8" font-family='"Liberation Sans", sans-serif' font-size="10.34" fill="#161616" stroke="#161616" stroke-width="0.23" textLength="24.1" lengthAdjust="spacingAndGlyphs">CHKD:</text>
<text x="1234.3" y="992.7" font-family='"Liberation Sans", sans-serif' font-size="10.34" fill="#161616" stroke="#161616" stroke-width="0.23" textLength="13.5" lengthAdjust="spacingAndGlyphs">DR:</text>
<text x="1277.6" y="948.6" font-family='"DejaVu Sans", "Liberation Sans", sans-serif' font-size="15.91" fill="#161616" textLength="62.6" lengthAdjust="spacingAndGlyphs">Cornelia</text>
<text x="1278.2" y="972.2" font-family='"DejaVu Sans", "Liberation Sans", sans-serif' font-size="15.91" fill="#161616" textLength="37" lengthAdjust="spacingAndGlyphs">Mark</text>
<text x="1278.5" y="996.9" font-family='"DejaVu Sans", "Liberation Sans", sans-serif' font-size="15.91" fill="#161616" textLength="59.2" lengthAdjust="spacingAndGlyphs">Michael</text>
<rect x="962.7" y="655.4" width="281.8" height="84.9" fill="none" stroke="#2e2e2e" stroke-width="1"/>
<line x1="1101.6" y1="655.4" x2="1101.6" y2="740.3" stroke="#2e2e2e" stroke-width="1"/>
<text x="967.6" y="641.3" font-family='"Liberation Serif", "Noto Serif CJK SC", serif' font-size="19" fill="#161616" textLength="111.8" lengthAdjust="spacingAndGlyphs">开关插卡状态</text>
<text x="1105.6" y="638.3" font-family='"Liberation Sans", sans-serif' font-size="14.8" fill="#161616" stroke="#161616" stroke-width="0.33" textLength="166.9" lengthAdjust="spacingAndGlyphs">G1-GN pin is defined as GND</text>
<text x="965.4" y="672.3" font-family='"Liberation Serif", serif' font-size="16.21" fill="#3a3a3a" textLength="60.1" lengthAdjust="spacingAndGlyphs">CIRCUIT:</text>
<text x="974.8" y="690.6" font-family='"Liberation Serif", serif' font-size="15.61" fill="#3a3a3a" textLength="14.7" lengthAdjust="spacingAndGlyphs">CD</text>
<text x="1030.3" y="690.6" font-family='"Liberation Serif", serif' font-size="15.61" fill="#3a3a3a" textLength="45.9" lengthAdjust="spacingAndGlyphs">GROUND</text>
<text x="968.1" y="736" font-family='"Liberation Serif", serif' font-size="15.61" fill="#3a3a3a" textLength="92.9" lengthAdjust="spacingAndGlyphs">WITHOUT CARD</text>
<text x="1116.3" y="691.1" font-family='"Liberation Serif", serif' font-size="15.61" fill="#3a3a3a" textLength="15.5" lengthAdjust="spacingAndGlyphs">CD</text>
<text x="1175.6" y="691.1" font-family='"Liberation Serif", serif' font-size="15.61" fill="#3a3a3a" textLength="46.2" lengthAdjust="spacingAndGlyphs">GROUND</text>
<text x="1105.1" y="736.5" font-family='"Liberation Serif", serif' font-size="15.61" fill="#3a3a3a" textLength="99.8" lengthAdjust="spacingAndGlyphs">CARD INSERTED</text>
<line x1="972.1" y1="705.1" x2="1075.4" y2="705.1" stroke="#2e2e2e" stroke-width="1"/>
<circle cx="972.1" cy="705.1" r="3.8" fill="#fff" stroke="#2e2e2e" stroke-width="1"/>
<circle cx="998.8" cy="705.1" r="3.8" fill="#fff" stroke="#2e2e2e" stroke-width="1"/>
<circle cx="1049" cy="705.1" r="3.8" fill="#fff" stroke="#2e2e2e" stroke-width="1"/>
<circle cx="1075.4" cy="705.1" r="3.8" fill="#fff" stroke="#2e2e2e" stroke-width="1"/>
<line x1="1117.9" y1="705.9" x2="1144.3" y2="705.9" stroke="#2e2e2e" stroke-width="1"/>
<line x1="1194.5" y1="705.9" x2="1221.2" y2="705.9" stroke="#2e2e2e" stroke-width="1"/>
<circle cx="1117.9" cy="705.9" r="3.8" fill="#fff" stroke="#2e2e2e" stroke-width="1"/>
<circle cx="1144.3" cy="705.9" r="3.8" fill="#fff" stroke="#2e2e2e" stroke-width="1"/>
<circle cx="1194.5" cy="705.9" r="3.8" fill="#fff" stroke="#2e2e2e" stroke-width="1"/>
<circle cx="1221.2" cy="705.9" r="3.8" fill="#fff" stroke="#2e2e2e" stroke-width="1"/>
<text x="1143" y="587.3" font-family='"Liberation Sans", sans-serif' font-size="13.69" fill="#161616" font-style="italic" stroke="#161616" stroke-width="0.3" textLength="62.2" lengthAdjust="spacingAndGlyphs">PCB LAYOUT</text>
<text x="1158.5" y="602.3" font-family='"Liberation Serif", serif' font-size="11.36" fill="#777" textLength="14.4" lengthAdjust="spacingAndGlyphs">PAD</text>
<rect x="1179" y="592.1" width="21.9" height="11.5" fill="none" stroke="#2e2e2e" stroke-width="0.8"/>
<line x1="1181.4" y1="592.1" x2="1179" y2="594.5" stroke="#2e2e2e" stroke-width="0.7"/>
<line x1="1183.8" y1="592.1" x2="1179" y2="596.9" stroke="#2e2e2e" stroke-width="0.7"/>
<line x1="1186.2" y1="592.1" x2="1179" y2="599.3" stroke="#2e2e2e" stroke-width="0.7"/>
<line x1="1188.6" y1="592.1" x2="1179" y2="601.7" stroke="#2e2e2e" stroke-width="0.7"/>
<line x1="1191" y1="592.1" x2="1179.5" y2="603.6" stroke="#2e2e2e" stroke-width="0.7"/>
<line x1="1193.4" y1="592.1" x2="1181.9" y2="603.6" stroke="#2e2e2e" stroke-width="0.7"/>
<line x1="1195.8" y1="592.1" x2="1184.3" y2="603.6" stroke="#2e2e2e" stroke-width="0.7"/>
<line x1="1198.2" y1="592.1" x2="1186.7" y2="603.6" stroke="#2e2e2e" stroke-width="0.7"/>
<line x1="1200.6" y1="592.1" x2="1189.1" y2="603.6" stroke="#2e2e2e" stroke-width="0.7"/>
<line x1="1200.9" y1="594.2" x2="1191.5" y2="603.6" stroke="#2e2e2e" stroke-width="0.7"/>
<line x1="1200.9" y1="596.6" x2="1193.9" y2="603.6" stroke="#2e2e2e" stroke-width="0.7"/>
<line x1="1200.9" y1="599" x2="1196.3" y2="603.6" stroke="#2e2e2e" stroke-width="0.7"/>
<line x1="1200.9" y1="601.4" x2="1198.7" y2="603.6" stroke="#2e2e2e" stroke-width="0.7"/>
<line x1="201.5" y1="240" x2="201.5" y2="395.6" stroke="#2e2e2e" stroke-width="1"/>
<line x1="205.2" y1="243" x2="205.2" y2="448.5" stroke="#2e2e2e" stroke-width="1"/>
<line x1="351" y1="243" x2="351" y2="315" stroke="#2e2e2e" stroke-width="1"/>
<line x1="354.6" y1="240" x2="354.6" y2="388" stroke="#2e2e2e" stroke-width="1"/>
<line x1="201.5" y1="240" x2="354.6" y2="240" stroke="#2e2e2e" stroke-width="1"/>
<path d="M205.2 243.2 H208.3 V245 Q208.3 246.6 209.8 246.6 Q211.3 246.6 211.3 245 V243.2 H241.3 V245 Q241.3 246.6 242.8 246.6 Q244.3 246.6 244.3 245 V243.2 H266.3 V245 Q266.3 246.6 267.8 246.6 Q269.3 246.6 269.3 245 V243.2 H315.2 V245 Q315.2 246.6 316.7 246.6 Q318.2 246.6 318.2 245 V243.2 H344 V245 Q344 246.6 345.5 246.6 Q347 246.6 347 245 V243.2 H351" fill="none" stroke="#2e2e2e" stroke-width="0.9"/>
<line x1="248" y1="240.6" x2="262" y2="240.6" stroke="#3a3a3a" stroke-width="1.8"/>
<line x1="323" y1="240.6" x2="338" y2="240.6" stroke="#3a3a3a" stroke-width="1.8"/>
<line x1="200.3" y1="262" x2="200.3" y2="285" stroke="#777" stroke-width="1.2"/>
<line x1="355.8" y1="262" x2="355.8" y2="285" stroke="#777" stroke-width="1.2"/>
<line x1="200.3" y1="300" x2="200.3" y2="322" stroke="#777" stroke-width="1.2"/>
<line x1="355.8" y1="300" x2="355.8" y2="322" stroke="#777" stroke-width="1.2"/>
<line x1="200.3" y1="338" x2="200.3" y2="352" stroke="#777" stroke-width="1.2"/>
<line x1="355.8" y1="338" x2="355.8" y2="352" stroke="#777" stroke-width="1.2"/>
<path d="M215.8 240.6 L214 304.5 Q214.2 306.8 216.2 306.8 H233.2 Q235.2 306.8 235.4 304.5 L232.6 240.6" fill="none" stroke="#2e2e2e" stroke-width="1"/>
<line x1="219.8" y1="243.5" x2="217.6" y2="306.5" stroke="#2e2e2e" stroke-width="0.9"/>
<line x1="229" y1="243.5" x2="232.8" y2="306.5" stroke="#2e2e2e" stroke-width="0.9"/>
<line x1="217.6" y1="252" x2="215.8" y2="306" stroke="#666" stroke-width="0.7"/>
<line x1="231" y1="252" x2="234.5" y2="271" stroke="#666" stroke-width="0.7"/>
<line x1="215" y1="271.2" x2="218.2" y2="271.2" stroke="#2e2e2e" stroke-width="0.9"/>
<line x1="231.4" y1="271.2" x2="234.8" y2="271.2" stroke="#2e2e2e" stroke-width="0.9"/>
<path d="M221.2 243.2 V249.5 Q221.2 252.8 224.2 252.8 Q227.2 252.8 227.2 249.5 V243.2" fill="none" stroke="#3a3a3a" stroke-width="1.6"/>
<line x1="216.3" y1="243.2" x2="232.1" y2="243.2" stroke="#2e2e2e" stroke-width="1"/>
<line x1="218" y1="244" x2="218" y2="252" stroke="#3a3a3a" stroke-width="1.3"/>
<line x1="230.4" y1="244" x2="230.4" y2="252" stroke="#3a3a3a" stroke-width="1.3"/>
<path d="M279.4 240.6 L276.2 304.5 Q276.4 306.8 278.4 306.8 H295.2 Q297.2 306.8 297.4 304.5 L296.2 240.6" fill="none" stroke="#2e2e2e" stroke-width="1"/>
<line x1="283.4" y1="243.5" x2="279.8" y2="306.5" stroke="#2e2e2e" stroke-width="0.9"/>
<line x1="292.6" y1="243.5" x2="294.8" y2="306.5" stroke="#2e2e2e" stroke-width="0.9"/>
<line x1="281.2" y1="252" x2="278" y2="306" stroke="#666" stroke-width="0.7"/>
<line x1="294.6" y1="252" x2="296.5" y2="271" stroke="#666" stroke-width="0.7"/>
<line x1="277.2" y1="271.2" x2="280.4" y2="271.2" stroke="#2e2e2e" stroke-width="0.9"/>
<line x1="293.4" y1="271.2" x2="296.8" y2="271.2" stroke="#2e2e2e" stroke-width="0.9"/>
<path d="M284.8 243.2 V249.5 Q284.8 252.8 287.8 252.8 Q290.8 252.8 290.8 249.5 V243.2" fill="none" stroke="#3a3a3a" stroke-width="1.6"/>
<line x1="279.9" y1="243.2" x2="295.7" y2="243.2" stroke="#2e2e2e" stroke-width="1"/>
<line x1="281.6" y1="244" x2="281.6" y2="252" stroke="#3a3a3a" stroke-width="1.3"/>
<line x1="294" y1="244" x2="294" y2="252" stroke="#3a3a3a" stroke-width="1.3"/>
<path d="M354.4 315.4 H329.7 Q327.2 315.4 327.2 317.9 V373.5 Q327.2 376 329.7 376 H332.5 Q334.7 376 334.7 373.8 V367.4 H342.8 V373.8 Q342.8 376 345 376 H354.4" fill="none" stroke="#2e2e2e" stroke-width="1"/>
<path d="M331.1 321.5 Q331.1 319.5 333.1 319.5 H344.6 Q346.6 319.5 346.6 321.5 V329.4 L342.8 335 V367.4 M331.1 321.5 V329.4 L335.2 335 V366.2 H342.8" fill="none" stroke="#2e2e2e" stroke-width="0.95"/>
<path d="M330.6 336 V373.5 M334.9 335.5 L329.8 344.6 V354 M333.6 340 L330.8 346" fill="none" stroke="#555" stroke-width="0.8"/>
<line x1="332.1" y1="352.2" x2="334.9" y2="352.2" stroke="#2e2e2e" stroke-width="0.9"/>
<line x1="343.2" y1="339.2" x2="346.2" y2="339.2" stroke="#2e2e2e" stroke-width="0.9"/>
<line x1="343.2" y1="352.2" x2="346.2" y2="352.2" stroke="#2e2e2e" stroke-width="0.9"/>
<line x1="345.9" y1="336" x2="345.9" y2="373.5" stroke="#555" stroke-width="0.8"/>
<line x1="350.2" y1="316.4" x2="350.2" y2="375.2" stroke="#8a8a8a" stroke-width="2.6"/>
<line x1="347.3" y1="316.2" x2="347.3" y2="375.4" stroke="#3a3a3a" stroke-width="0.8"/>
<line x1="348.8" y1="316.2" x2="348.8" y2="375.4" stroke="#3a3a3a" stroke-width="0.8"/>
<line x1="351.7" y1="316.2" x2="351.7" y2="375.4" stroke="#3a3a3a" stroke-width="0.8"/>
<line x1="353.4" y1="316.2" x2="353.4" y2="375.4" stroke="#3a3a3a" stroke-width="0.8"/>
<line x1="328.4" y1="318.5" x2="328.4" y2="355" stroke="#555" stroke-width="1" stroke-dasharray="1.8 1.3"/>
<line x1="337.4" y1="316.2" x2="337.4" y2="318.6" stroke="#555" stroke-width="1"/>
<line x1="340.1" y1="316.2" x2="340.1" y2="318.6" stroke="#555" stroke-width="1"/>
<line x1="342.9" y1="316.2" x2="342.9" y2="318.6" stroke="#555" stroke-width="1"/>
<path d="M211 360.8 V344.4 Q211 341.4 214 341.4 H251.8 Q254.8 341.4 254.8 344.4 V360.8" fill="none" stroke="#2e2e2e" stroke-width="1"/>
<line x1="213" y1="343.4" x2="252.8" y2="343.4" stroke="#2e2e2e" stroke-width="0.8"/>
<line x1="211" y1="360.8" x2="254.8" y2="360.8" stroke="#2e2e2e" stroke-width="0.9"/>
<line x1="213.4" y1="342" x2="213.4" y2="362.5" stroke="#2e2e2e" stroke-width="0.9"/>
<line x1="216.6" y1="342" x2="216.6" y2="362.5" stroke="#2e2e2e" stroke-width="0.9"/>
<line x1="215" y1="341" x2="215" y2="367.6" stroke="#2e2e2e" stroke-width="0.9"/>
<line x1="213.4" y1="346.3" x2="216.6" y2="346.3" stroke="#2e2e2e" stroke-width="0.8"/>
<line x1="213.4" y1="348.3" x2="216.6" y2="348.3" stroke="#2e2e2e" stroke-width="0.8"/>
<line x1="213.2" y1="351.6" x2="216.8" y2="351.6" stroke="#3a3a3a" stroke-width="1.6"/>
<path d="M213.4 362.5 L215 364.2 L216.6 362.5" fill="#333" stroke="#2e2e2e" stroke-width="0.8"/>
<line x1="225.6" y1="342" x2="225.6" y2="362.5" stroke="#2e2e2e" stroke-width="0.9"/>
<line x1="228.8" y1="342" x2="228.8" y2="362.5" stroke="#2e2e2e" stroke-width="0.9"/>
<line x1="227.2" y1="341" x2="227.2" y2="367.6" stroke="#2e2e2e" stroke-width="0.9"/>
<line x1="225.6" y1="346.3" x2="228.8" y2="346.3" stroke="#2e2e2e" stroke-width="0.8"/>
<line x1="225.6" y1="348.3" x2="228.8" y2="348.3" stroke="#2e2e2e" stroke-width="0.8"/>
<line x1="225.4" y1="351.6" x2="229" y2="351.6" stroke="#3a3a3a" stroke-width="1.6"/>
<path d="M225.6 362.5 L227.2 364.2 L228.8 362.5" fill="#333" stroke="#2e2e2e" stroke-width="0.8"/>
<line x1="237.6" y1="342" x2="237.6" y2="362.5" stroke="#2e2e2e" stroke-width="0.9"/>
<line x1="240.8" y1="342" x2="240.8" y2="362.5" stroke="#2e2e2e" stroke-width="0.9"/>
<line x1="239.2" y1="341" x2="239.2" y2="367.6" stroke="#2e2e2e" stroke-width="0.9"/>
<line x1="237.6" y1="346.3" x2="240.8" y2="346.3" stroke="#2e2e2e" stroke-width="0.8"/>
<line x1="237.6" y1="348.3" x2="240.8" y2="348.3" stroke="#2e2e2e" stroke-width="0.8"/>
<line x1="237.4" y1="351.6" x2="241" y2="351.6" stroke="#3a3a3a" stroke-width="1.6"/>
<path d="M237.6 362.5 L239.2 364.2 L240.8 362.5" fill="#333" stroke="#2e2e2e" stroke-width="0.8"/>
<line x1="249.6" y1="342" x2="249.6" y2="362.5" stroke="#2e2e2e" stroke-width="0.9"/>
<line x1="252.8" y1="342" x2="252.8" y2="362.5" stroke="#2e2e2e" stroke-width="0.9"/>
<line x1="251.2" y1="341" x2="251.2" y2="367.6" stroke="#2e2e2e" stroke-width="0.9"/>
<line x1="249.6" y1="346.3" x2="252.8" y2="346.3" stroke="#2e2e2e" stroke-width="0.8"/>
<line x1="249.6" y1="348.3" x2="252.8" y2="348.3" stroke="#2e2e2e" stroke-width="0.8"/>
<line x1="249.4" y1="351.6" x2="253" y2="351.6" stroke="#3a3a3a" stroke-width="1.6"/>
<path d="M249.6 362.5 L251.2 364.2 L252.8 362.5" fill="#333" stroke="#2e2e2e" stroke-width="0.8"/>
<path d="M260.2 360.8 V344.4 Q260.2 341.4 263.2 341.4 H301 Q304 341.4 304 344.4 V360.8" fill="none" stroke="#2e2e2e" stroke-width="1"/>
<line x1="262.2" y1="343.4" x2="302" y2="343.4" stroke="#2e2e2e" stroke-width="0.8"/>
<line x1="261.6" y1="342" x2="261.6" y2="362.5" stroke="#2e2e2e" stroke-width="0.9"/>
<line x1="264.8" y1="342" x2="264.8" y2="362.5" stroke="#2e2e2e" stroke-width="0.9"/>
<line x1="263.2" y1="341" x2="263.2" y2="367.6" stroke="#2e2e2e" stroke-width="0.9"/>
<line x1="261.6" y1="346.3" x2="264.8" y2="346.3" stroke="#2e2e2e" stroke-width="0.8"/>
<line x1="261.6" y1="348.3" x2="264.8" y2="348.3" stroke="#2e2e2e" stroke-width="0.8"/>
<line x1="261.4" y1="351.6" x2="265" y2="351.6" stroke="#3a3a3a" stroke-width="1.6"/>
<path d="M261.6 362.5 L263.2 364.2 L264.8 362.5" fill="#333" stroke="#2e2e2e" stroke-width="0.8"/>
<line x1="273.9" y1="342" x2="273.9" y2="362.5" stroke="#2e2e2e" stroke-width="0.9"/>
<line x1="277.1" y1="342" x2="277.1" y2="362.5" stroke="#2e2e2e" stroke-width="0.9"/>
<line x1="275.5" y1="341" x2="275.5" y2="367.6" stroke="#2e2e2e" stroke-width="0.9"/>
<line x1="273.9" y1="346.3" x2="277.1" y2="346.3" stroke="#2e2e2e" stroke-width="0.8"/>
<line x1="273.9" y1="348.3" x2="277.1" y2="348.3" stroke="#2e2e2e" stroke-width="0.8"/>
<line x1="273.7" y1="351.6" x2="277.3" y2="351.6" stroke="#3a3a3a" stroke-width="1.6"/>
<path d="M273.9 362.5 L275.5 364.2 L277.1 362.5" fill="#333" stroke="#2e2e2e" stroke-width="0.8"/>
<line x1="285.9" y1="342" x2="285.9" y2="362.5" stroke="#2e2e2e" stroke-width="0.9"/>
<line x1="289.1" y1="342" x2="289.1" y2="362.5" stroke="#2e2e2e" stroke-width="0.9"/>
<line x1="287.5" y1="341" x2="287.5" y2="367.6" stroke="#2e2e2e" stroke-width="0.9"/>
<line x1="285.9" y1="346.3" x2="289.1" y2="346.3" stroke="#2e2e2e" stroke-width="0.8"/>
<line x1="285.9" y1="348.3" x2="289.1" y2="348.3" stroke="#2e2e2e" stroke-width="0.8"/>
<line x1="285.7" y1="351.6" x2="289.3" y2="351.6" stroke="#3a3a3a" stroke-width="1.6"/>
<path d="M285.9 362.5 L287.5 364.2 L289.1 362.5" fill="#333" stroke="#2e2e2e" stroke-width="0.8"/>
<line x1="297.9" y1="342" x2="297.9" y2="362.5" stroke="#2e2e2e" stroke-width="0.9"/>
<line x1="301.1" y1="342" x2="301.1" y2="362.5" stroke="#2e2e2e" stroke-width="0.9"/>
<line x1="299.5" y1="341" x2="299.5" y2="367.6" stroke="#2e2e2e" stroke-width="0.9"/>
<line x1="297.9" y1="346.3" x2="301.1" y2="346.3" stroke="#2e2e2e" stroke-width="0.8"/>
<line x1="297.9" y1="348.3" x2="301.1" y2="348.3" stroke="#2e2e2e" stroke-width="0.8"/>
<line x1="297.7" y1="351.6" x2="301.3" y2="351.6" stroke="#3a3a3a" stroke-width="1.6"/>
<path d="M297.9 362.5 L299.5 364.2 L301.1 362.5" fill="#333" stroke="#2e2e2e" stroke-width="0.8"/>
<path d="M288 341.4 V343.8 H290.6 M293.4 343.8 H296 V341.4" fill="none" stroke="#2e2e2e" stroke-width="0.8"/>
<line x1="201.5" y1="395.6" x2="214.6" y2="395.6" stroke="#2e2e2e" stroke-width="1"/>
<path d="M214.6 395.6 C232 389 250 384.8 268 384.8 C288 384.8 310 389.5 325.7 396.2 Q326.6 404.4 329.6 406.3" fill="none" stroke="#2e2e2e" stroke-width="1"/>
<path d="M305.8 390.6 V406.3 M305.8 402.8 H325.4 M305.8 406.3 H330" fill="none" stroke="#2e2e2e" stroke-width="0.9"/>
<path d="M316 394.5 V402.8 M316 399.2 H318.5 L321 396.2 M318.5 399.2 V402.8" fill="none" stroke="#2e2e2e" stroke-width="0.8"/>
<path d="M205.2 404 Q205.2 412.3 212.3 412.3 H319.6 Q325.9 412.3 325.9 408.2" fill="none" stroke="#2e2e2e" stroke-width="1"/>
<path d="M205.2 413.4 Q205.2 421.5 212.3 421.5 H319.6 Q325.9 421.5 325.9 416" fill="none" stroke="#2e2e2e" stroke-width="1"/>
<path d="M205.2 448.5 Q205.2 455.2 212 455.2 H319.2 Q325.9 455.2 325.9 448.5 V404" fill="none" stroke="#2e2e2e" stroke-width="1"/>
<path d="M342.5 406.3 V390.2 Q342.5 387.4 345.3 387.4 H351.7 Q354.5 387.4 354.5 390.2 V406.3" fill="none" stroke="#2e2e2e" stroke-width="1"/>
<line x1="342.8" y1="390.4" x2="354.2" y2="390.4" stroke="#2e2e2e" stroke-width="0.8"/>
<line x1="345.2" y1="390.4" x2="345.2" y2="406.3" stroke="#2e2e2e" stroke-width="0.8"/>
<line x1="347.4" y1="390.4" x2="347.4" y2="406.3" stroke="#2e2e2e" stroke-width="0.8"/>
<line x1="351.6" y1="375.8" x2="351.6" y2="387.4" stroke="#2e2e2e" stroke-width="0.9"/>
<line x1="278.1" y1="226.7" x2="278.1" y2="407.5" stroke="#2e2e2e" stroke-width="1"/>
<path d="M521.3 239.7 H541.2 V278.7 H534 Q532 278.7 532 280.6 V287.1 Q532 289 534 289 H541.2 V336 H534 Q532 336 532 337.9 V344.9 Q532 346.8 534 346.8 H541.2 V406.2 H521.3 Z" fill="none" stroke="#2e2e2e" stroke-width="1"/>
<line x1="523.7" y1="239.7" x2="523.7" y2="389.3" stroke="#2e2e2e" stroke-width="0.9"/>
<rect x="527.3" y="250.6" width="8.4" height="16.8" fill="none" stroke="#2e2e2e" stroke-width="1" rx="1.2"/>
<rect x="528.6" y="252.2" width="5.8" height="13.6" fill="none" stroke="#777" stroke-width="0.6" rx="0.8"/>
<rect x="527.3" y="303.5" width="8.4" height="16.1" fill="none" stroke="#2e2e2e" stroke-width="1" rx="1.2"/>
<rect x="528.6" y="305.1" width="5.8" height="12.9" fill="none" stroke="#777" stroke-width="0.6" rx="0.8"/>
<rect x="527.3" y="359.5" width="8.4" height="17.3" fill="none" stroke="#2e2e2e" stroke-width="1" rx="1.2"/>
<rect x="528.6" y="361.1" width="5.8" height="14.1" fill="none" stroke="#777" stroke-width="0.6" rx="0.8"/>
<line x1="521.3" y1="386.5" x2="541.2" y2="386.5" stroke="#2e2e2e" stroke-width="0.9"/>
<line x1="521.3" y1="389.3" x2="541.2" y2="389.3" stroke="#2e2e2e" stroke-width="0.9"/>
<line x1="536.2" y1="389.3" x2="536.2" y2="406.2" stroke="#2e2e2e" stroke-width="0.9"/>
<line x1="540" y1="389.3" x2="540" y2="406.2" stroke="#666" stroke-width="0.7"/>
<line x1="522.5" y1="316.7" x2="522.5" y2="374.4" stroke="#777" stroke-width="1.6"/>
<line x1="541.9" y1="248" x2="541.9" y2="254" stroke="#666" stroke-width="1"/>
<line x1="541.9" y1="262" x2="541.9" y2="268" stroke="#666" stroke-width="1"/>
<line x1="541.9" y1="300" x2="541.9" y2="306" stroke="#666" stroke-width="1"/>
<line x1="541.9" y1="322" x2="541.9" y2="328" stroke="#666" stroke-width="1"/>
<line x1="636" y1="240.2" x2="636" y2="279.2" stroke="#3a3a3a" stroke-width="2.6"/>
<line x1="636" y1="288.8" x2="636" y2="300" stroke="#3a3a3a" stroke-width="2.6"/>
<line x1="636" y1="303" x2="636" y2="335" stroke="#3a3a3a" stroke-width="2.6"/>
<line x1="636" y1="338" x2="636" y2="372" stroke="#3a3a3a" stroke-width="2.6"/>
<line x1="636" y1="375" x2="636" y2="387.4" stroke="#3a3a3a" stroke-width="2.6"/>
<line x1="637.6" y1="240.2" x2="637.6" y2="387.4" stroke="#2e2e2e" stroke-width="0.9"/>
<path d="M635 279.2 H637.6 M635 288.8 H637.6" fill="none" stroke="#2e2e2e" stroke-width="0.8"/>
<line x1="635.2" y1="279.2" x2="635.2" y2="288.8" stroke="#2e2e2e" stroke-width="0.8"/>
<line x1="787.6" y1="240.2" x2="787.6" y2="258" stroke="#3a3a3a" stroke-width="2.6"/>
<line x1="787.6" y1="261" x2="787.6" y2="296.6" stroke="#3a3a3a" stroke-width="2.6"/>
<line x1="787.6" y1="311.6" x2="787.6" y2="340" stroke="#3a3a3a" stroke-width="2.6"/>
<line x1="787.6" y1="343" x2="787.6" y2="375" stroke="#3a3a3a" stroke-width="2.6"/>
<line x1="786" y1="240.2" x2="786" y2="375" stroke="#2e2e2e" stroke-width="0.9"/>
<path d="M788.9 296.6 H790.2 V311.6 H788.9" fill="none" stroke="#2e2e2e" stroke-width="0.9"/>
<line x1="789.7" y1="258" x2="789.7" y2="272" stroke="#666" stroke-width="1"/>
<line x1="789.7" y1="322" x2="789.7" y2="338" stroke="#666" stroke-width="1"/>
<line x1="789.7" y1="350" x2="789.7" y2="364" stroke="#666" stroke-width="1"/>
<line x1="636" y1="240.2" x2="788" y2="240.2" stroke="#2e2e2e" stroke-width="1"/>
<line x1="646.6" y1="240" x2="670.6" y2="240" stroke="#3a3a3a" stroke-width="2.4"/>
<line x1="723.4" y1="240" x2="746.3" y2="240" stroke="#3a3a3a" stroke-width="2.4"/>
<path d="M644 240.2 L645.5 242.4 H672 L673.2 240.2 M676.5 240.2 L677.5 242 H681 L682 240.2 M716 240.2 L717.2 242.2 H721 L722.3 240.2 M748 240.2 L749 242.2 H753 L754 240.2" fill="none" stroke="#2e2e2e" stroke-width="0.8"/>
<rect x="642.4" y="247.2" width="7.6" height="7.4" fill="none" stroke="#2e2e2e" stroke-width="0.9"/>
<rect x="660.4" y="246.2" width="16.8" height="26.8" fill="none" stroke="#2e2e2e" stroke-width="1" rx="2.5"/>
<path d="M662.6 249 L675 252.3 L662.6 255.6 L675 258.9 L662.6 262.2 L675 265.5 L662.6 268.8" fill="none" stroke="#3a3a3a" stroke-width="1.1"/>
<path d="M662.6 250.7 L675 254 L662.6 257.3 L675 260.6 L662.6 263.9 L675 267.2 L662.6 270.5" fill="none" stroke="#3a3a3a" stroke-width="1.1"/>
<path d="M693.4 240.2 V252.2 H713.8 V240.2" fill="none" stroke="#2e2e2e" stroke-width="1.1"/>
<path d="M695.8 241 V251 H711.2 V241" fill="none" stroke="#2e2e2e" stroke-width="0.9"/>
<line x1="695.8" y1="247.2" x2="711.2" y2="247.2" stroke="#2e2e2e" stroke-width="0.9"/>
<line x1="695.8" y1="249.4" x2="711.2" y2="249.4" stroke="#2e2e2e" stroke-width="0.9"/>
<path d="M699.6 241 L703.6 244.5 L707.6 241" fill="none" stroke="#2e2e2e" stroke-width="0.8"/>
<path d="M755.9 240.2 V252.2 H775.7 V240.2" fill="none" stroke="#2e2e2e" stroke-width="1.1"/>
<path d="M758.3 241 V251 H773.1 V241" fill="none" stroke="#2e2e2e" stroke-width="0.9"/>
<line x1="758.3" y1="247.2" x2="773.1" y2="247.2" stroke="#2e2e2e" stroke-width="0.9"/>
<line x1="758.3" y1="249.4" x2="773.1" y2="249.4" stroke="#2e2e2e" stroke-width="0.9"/>
<path d="M761.8 241 L765.8 244.5 L769.8 241" fill="none" stroke="#2e2e2e" stroke-width="0.8"/>
<rect x="720.4" y="248.6" width="28.9" height="3.2" fill="#aaa" stroke="#555" stroke-width="0.8"/>
<path d="M686.2 326.6 V274.9 Q686.2 271.4 690.4 271.4 Q694.6 271.4 694.6 274.9 V326.6 Z" fill="none" stroke="#2e2e2e" stroke-width="1"/>
<path d="M687.3 326 V316 L688.4 286.6 Q688.4 284.6 690.4 284.6 Q692.4 284.6 692.4 286.6 L693.5 316 V326" fill="none" stroke="#2e2e2e" stroke-width="0.9"/>
<path d="M689.5 295.6 L688.5 315.5 M691.3 295.6 L692.3 315.5" fill="none" stroke="#555" stroke-width="0.7"/>
<line x1="688.4" y1="285.2" x2="692.4" y2="285.2" stroke="#3a3a3a" stroke-width="1.4"/>
<line x1="688.4" y1="287.8" x2="692.4" y2="287.8" stroke="#2e2e2e" stroke-width="0.8"/>
<line x1="688.4" y1="290.2" x2="692.4" y2="290.2" stroke="#2e2e2e" stroke-width="0.8"/>
<line x1="688.4" y1="292.6" x2="692.4" y2="292.6" stroke="#2e2e2e" stroke-width="0.8"/>
<line x1="687.3" y1="316.4" x2="693.5" y2="316.4" stroke="#2e2e2e" stroke-width="0.9"/>
<line x1="687.3" y1="319.2" x2="693.5" y2="319.2" stroke="#2e2e2e" stroke-width="0.9"/>
<rect x="687.4" y="331.4" width="6" height="7.2" fill="none" stroke="#2e2e2e" stroke-width="0.9"/>
<path d="M698.2 326.6 V271.7 Q698.2 268.2 702.4 268.2 Q706.6 268.2 706.6 271.7 V326.6 Z" fill="none" stroke="#2e2e2e" stroke-width="1"/>
<path d="M699.3 326 V316 L700.4 282.4 Q700.4 280.4 702.4 280.4 Q704.4 280.4 704.4 282.4 L705.5 316 V326" fill="none" stroke="#2e2e2e" stroke-width="0.9"/>
<path d="M701.5 291.4 L700.5 315.5 M703.3 291.4 L704.3 315.5" fill="none" stroke="#555" stroke-width="0.7"/>
<line x1="700.4" y1="281" x2="704.4" y2="281" stroke="#3a3a3a" stroke-width="1.4"/>
<line x1="700.4" y1="283.6" x2="704.4" y2="283.6" stroke="#2e2e2e" stroke-width="0.8"/>
<line x1="700.4" y1="286" x2="704.4" y2="286" stroke="#2e2e2e" stroke-width="0.8"/>
<line x1="700.4" y1="288.4" x2="704.4" y2="288.4" stroke="#2e2e2e" stroke-width="0.8"/>
<line x1="699.3" y1="316.4" x2="705.5" y2="316.4" stroke="#2e2e2e" stroke-width="0.9"/>
<line x1="699.3" y1="319.2" x2="705.5" y2="319.2" stroke="#2e2e2e" stroke-width="0.9"/>
<rect x="699.4" y="331.4" width="6" height="7.2" fill="none" stroke="#2e2e2e" stroke-width="0.9"/>
<path d="M710.4 326.6 V274.9 Q710.4 271.4 714.6 271.4 Q718.8 271.4 718.8 274.9 V326.6 Z" fill="none" stroke="#2e2e2e" stroke-width="1"/>
<path d="M711.5 326 V316 L712.6 286.6 Q712.6 284.6 714.6 284.6 Q716.6 284.6 716.6 286.6 L717.7 316 V326" fill="none" stroke="#2e2e2e" stroke-width="0.9"/>
<path d="M713.7 295.6 L712.7 315.5 M715.5 295.6 L716.5 315.5" fill="none" stroke="#555" stroke-width="0.7"/>
<line x1="712.6" y1="285.2" x2="716.6" y2="285.2" stroke="#3a3a3a" stroke-width="1.4"/>
<line x1="712.6" y1="287.8" x2="716.6" y2="287.8" stroke="#2e2e2e" stroke-width="0.8"/>
<line x1="712.6" y1="290.2" x2="716.6" y2="290.2" stroke="#2e2e2e" stroke-width="0.8"/>
<line x1="712.6" y1="292.6" x2="716.6" y2="292.6" stroke="#2e2e2e" stroke-width="0.8"/>
<line x1="711.5" y1="316.4" x2="717.7" y2="316.4" stroke="#2e2e2e" stroke-width="0.9"/>
<line x1="711.5" y1="319.2" x2="717.7" y2="319.2" stroke="#2e2e2e" stroke-width="0.9"/>
<rect x="711.6" y="331.4" width="6" height="7.2" fill="none" stroke="#2e2e2e" stroke-width="0.9"/>
<path d="M722.6 326.6 V274.9 Q722.6 271.4 726.8 271.4 Q731 271.4 731 274.9 V326.6 Z" fill="none" stroke="#2e2e2e" stroke-width="1"/>
<path d="M723.7 326 V316 L724.8 289 Q724.8 287 726.8 287 Q728.8 287 728.8 289 L729.9 316 V326" fill="none" stroke="#2e2e2e" stroke-width="0.9"/>
<path d="M725.9 298 L724.9 315.5 M727.7 298 L728.7 315.5" fill="none" stroke="#555" stroke-width="0.7"/>
<line x1="724.8" y1="287.6" x2="728.8" y2="287.6" stroke="#3a3a3a" stroke-width="1.4"/>
<line x1="724.8" y1="290.2" x2="728.8" y2="290.2" stroke="#2e2e2e" stroke-width="0.8"/>
<line x1="724.8" y1="292.6" x2="728.8" y2="292.6" stroke="#2e2e2e" stroke-width="0.8"/>
<line x1="724.8" y1="295" x2="728.8" y2="295" stroke="#2e2e2e" stroke-width="0.8"/>
<line x1="723.7" y1="316.4" x2="729.9" y2="316.4" stroke="#2e2e2e" stroke-width="0.9"/>
<line x1="723.7" y1="319.2" x2="729.9" y2="319.2" stroke="#2e2e2e" stroke-width="0.9"/>
<rect x="723.8" y="331.4" width="6" height="7.2" fill="none" stroke="#2e2e2e" stroke-width="0.9"/>
<path d="M734.6 326.6 V274.9 Q734.6 271.4 738.8 271.4 Q743 271.4 743 274.9 V326.6 Z" fill="none" stroke="#2e2e2e" stroke-width="1"/>
<path d="M735.7 326 V316 L736.8 286.6 Q736.8 284.6 738.8 284.6 Q740.8 284.6 740.8 286.6 L741.9 316 V326" fill="none" stroke="#2e2e2e" stroke-width="0.9"/>
<path d="M737.9 295.6 L736.9 315.5 M739.7 295.6 L740.7 315.5" fill="none" stroke="#555" stroke-width="0.7"/>
<line x1="736.8" y1="285.2" x2="740.8" y2="285.2" stroke="#3a3a3a" stroke-width="1.4"/>
<line x1="736.8" y1="287.8" x2="740.8" y2="287.8" stroke="#2e2e2e" stroke-width="0.8"/>
<line x1="736.8" y1="290.2" x2="740.8" y2="290.2" stroke="#2e2e2e" stroke-width="0.8"/>
<line x1="736.8" y1="292.6" x2="740.8" y2="292.6" stroke="#2e2e2e" stroke-width="0.8"/>
<line x1="735.7" y1="316.4" x2="741.9" y2="316.4" stroke="#2e2e2e" stroke-width="0.9"/>
<line x1="735.7" y1="319.2" x2="741.9" y2="319.2" stroke="#2e2e2e" stroke-width="0.9"/>
<rect x="735.8" y="331.4" width="6" height="7.2" fill="none" stroke="#2e2e2e" stroke-width="0.9"/>
<path d="M746.6 326.6 V274.9 Q746.6 271.4 750.8 271.4 Q755 271.4 755 274.9 V326.6 Z" fill="none" stroke="#2e2e2e" stroke-width="1"/>
<path d="M747.7 326 V316 L748.8 289 Q748.8 287 750.8 287 Q752.8 287 752.8 289 L753.9 316 V326" fill="none" stroke="#2e2e2e" stroke-width="0.9"/>
<path d="M749.9 298 L748.9 315.5 M751.7 298 L752.7 315.5" fill="none" stroke="#555" stroke-width="0.7"/>
<line x1="748.8" y1="287.6" x2="752.8" y2="287.6" stroke="#3a3a3a" stroke-width="1.4"/>
<line x1="748.8" y1="290.2" x2="752.8" y2="290.2" stroke="#2e2e2e" stroke-width="0.8"/>
<line x1="748.8" y1="292.6" x2="752.8" y2="292.6" stroke="#2e2e2e" stroke-width="0.8"/>
<line x1="748.8" y1="295" x2="752.8" y2="295" stroke="#2e2e2e" stroke-width="0.8"/>
<line x1="747.7" y1="316.4" x2="753.9" y2="316.4" stroke="#2e2e2e" stroke-width="0.9"/>
<line x1="747.7" y1="319.2" x2="753.9" y2="319.2" stroke="#2e2e2e" stroke-width="0.9"/>
<rect x="747.8" y="331.4" width="6" height="7.2" fill="none" stroke="#2e2e2e" stroke-width="0.9"/>
<path d="M758.6 326.6 V274.9 Q758.6 271.4 762.8 271.4 Q767 271.4 767 274.9 V326.6 Z" fill="none" stroke="#2e2e2e" stroke-width="1"/>
<path d="M759.7 326 V316 L760.8 286.6 Q760.8 284.6 762.8 284.6 Q764.8 284.6 764.8 286.6 L765.9 316 V326" fill="none" stroke="#2e2e2e" stroke-width="0.9"/>
<path d="M761.9 295.6 L760.9 315.5 M763.7 295.6 L764.7 315.5" fill="none" stroke="#555" stroke-width="0.7"/>
<line x1="760.8" y1="285.2" x2="764.8" y2="285.2" stroke="#3a3a3a" stroke-width="1.4"/>
<line x1="760.8" y1="287.8" x2="764.8" y2="287.8" stroke="#2e2e2e" stroke-width="0.8"/>
<line x1="760.8" y1="290.2" x2="764.8" y2="290.2" stroke="#2e2e2e" stroke-width="0.8"/>
<line x1="760.8" y1="292.6" x2="764.8" y2="292.6" stroke="#2e2e2e" stroke-width="0.8"/>
<line x1="759.7" y1="316.4" x2="765.9" y2="316.4" stroke="#2e2e2e" stroke-width="0.9"/>
<line x1="759.7" y1="319.2" x2="765.9" y2="319.2" stroke="#2e2e2e" stroke-width="0.9"/>
<rect x="759.8" y="331.4" width="6" height="7.2" fill="none" stroke="#2e2e2e" stroke-width="0.9"/>
<path d="M770.6 326.6 V274.9 Q770.6 271.4 774.8 271.4 Q779 271.4 779 274.9 V326.6 Z" fill="none" stroke="#2e2e2e" stroke-width="1"/>
<path d="M771.7 326 V316 L772.8 286.6 Q772.8 284.6 774.8 284.6 Q776.8 284.6 776.8 286.6 L777.9 316 V326" fill="none" stroke="#2e2e2e" stroke-width="0.9"/>
<path d="M773.9 295.6 L772.9 315.5 M775.7 295.6 L776.7 315.5" fill="none" stroke="#555" stroke-width="0.7"/>
<line x1="772.8" y1="285.2" x2="776.8" y2="285.2" stroke="#3a3a3a" stroke-width="1.4"/>
<line x1="772.8" y1="287.8" x2="776.8" y2="287.8" stroke="#2e2e2e" stroke-width="0.8"/>
<line x1="772.8" y1="290.2" x2="776.8" y2="290.2" stroke="#2e2e2e" stroke-width="0.8"/>
<line x1="772.8" y1="292.6" x2="776.8" y2="292.6" stroke="#2e2e2e" stroke-width="0.8"/>
<line x1="771.7" y1="316.4" x2="777.9" y2="316.4" stroke="#2e2e2e" stroke-width="0.9"/>
<line x1="771.7" y1="319.2" x2="777.9" y2="319.2" stroke="#2e2e2e" stroke-width="0.9"/>
<rect x="771.8" y="331.4" width="6" height="7.2" fill="none" stroke="#2e2e2e" stroke-width="0.9"/>
<path d="M678.4 401.6 V344.6 H696.2 V342.4 H697.4 V340.4 H708.6 V342.4 H709.8 V344.6 H781 V374.6 H785.8" fill="none" stroke="#2e2e2e" stroke-width="1"/>
<path d="M683.8 344.6 V406.4 M678.4 401.6 L683.8 406.4" fill="none" stroke="#2e2e2e" stroke-width="1"/>
<line x1="686.2" y1="360.2" x2="779.9" y2="360.2" stroke="#2e2e2e" stroke-width="1"/>
<line x1="686.2" y1="344.6" x2="686.2" y2="353" stroke="#2e2e2e" stroke-width="0.8"/>
<line x1="779.9" y1="344.6" x2="779.9" y2="360.2" stroke="#2e2e2e" stroke-width="0.8"/>
<path d="M686.2 353 Q686.4 358 690.4 360.2" fill="none" stroke="#2e2e2e" stroke-width="0.8"/>
<line x1="688.7" y1="345" x2="688.7" y2="362" stroke="#2e2e2e" stroke-width="0.9"/>
<line x1="692.1" y1="345" x2="692.1" y2="362" stroke="#2e2e2e" stroke-width="0.9"/>
<line x1="690.4" y1="341" x2="690.4" y2="345" stroke="#2e2e2e" stroke-width="0.9"/>
<line x1="688.5" y1="349.2" x2="692.3" y2="349.2" stroke="#3a3a3a" stroke-width="1.5"/>
<line x1="688.5" y1="352" x2="692.3" y2="352" stroke="#3a3a3a" stroke-width="1"/>
<line x1="690.4" y1="345" x2="690.4" y2="362" stroke="#666" stroke-width="0.7"/>
<path d="M688.7 362 L690.4 364 L692.1 362 Z" fill="#333" stroke="#2e2e2e" stroke-width="0.8"/>
<line x1="690.4" y1="364" x2="690.4" y2="368.2" stroke="#2e2e2e" stroke-width="0.9"/>
<line x1="700.7" y1="345" x2="700.7" y2="362" stroke="#2e2e2e" stroke-width="0.9"/>
<line x1="704.1" y1="345" x2="704.1" y2="362" stroke="#2e2e2e" stroke-width="0.9"/>
<line x1="702.4" y1="341" x2="702.4" y2="345" stroke="#2e2e2e" stroke-width="0.9"/>
<line x1="700.5" y1="349.2" x2="704.3" y2="349.2" stroke="#3a3a3a" stroke-width="1.5"/>
<line x1="700.5" y1="352" x2="704.3" y2="352" stroke="#3a3a3a" stroke-width="1"/>
<line x1="702.4" y1="345" x2="702.4" y2="362" stroke="#666" stroke-width="0.7"/>
<path d="M700.7 362 L702.4 364 L704.1 362 Z" fill="#333" stroke="#2e2e2e" stroke-width="0.8"/>
<line x1="702.4" y1="364" x2="702.4" y2="366.4" stroke="#2e2e2e" stroke-width="0.9"/>
<line x1="712.7" y1="345" x2="712.7" y2="362" stroke="#2e2e2e" stroke-width="0.9"/>
<line x1="716.1" y1="345" x2="716.1" y2="362" stroke="#2e2e2e" stroke-width="0.9"/>
<line x1="714.4" y1="341" x2="714.4" y2="345" stroke="#2e2e2e" stroke-width="0.9"/>
<line x1="712.5" y1="349.2" x2="716.3" y2="349.2" stroke="#3a3a3a" stroke-width="1.5"/>
<line x1="712.5" y1="352" x2="716.3" y2="352" stroke="#3a3a3a" stroke-width="1"/>
<line x1="714.4" y1="345" x2="714.4" y2="362" stroke="#666" stroke-width="0.7"/>
<path d="M712.7 362 L714.4 364 L716.1 362 Z" fill="#333" stroke="#2e2e2e" stroke-width="0.8"/>
<line x1="714.4" y1="364" x2="714.4" y2="368.2" stroke="#2e2e2e" stroke-width="0.9"/>
<line x1="725.1" y1="345" x2="725.1" y2="362" stroke="#2e2e2e" stroke-width="0.9"/>
<line x1="728.5" y1="345" x2="728.5" y2="362" stroke="#2e2e2e" stroke-width="0.9"/>
<line x1="726.8" y1="341" x2="726.8" y2="345" stroke="#2e2e2e" stroke-width="0.9"/>
<line x1="724.9" y1="349.2" x2="728.7" y2="349.2" stroke="#3a3a3a" stroke-width="1.5"/>
<line x1="724.9" y1="352" x2="728.7" y2="352" stroke="#3a3a3a" stroke-width="1"/>
<line x1="726.8" y1="345" x2="726.8" y2="362" stroke="#666" stroke-width="0.7"/>
<path d="M725.1 362 L726.8 364 L728.5 362 Z" fill="#333" stroke="#2e2e2e" stroke-width="0.8"/>
<line x1="726.8" y1="364" x2="726.8" y2="366.4" stroke="#2e2e2e" stroke-width="0.9"/>
<line x1="737.1" y1="345" x2="737.1" y2="362" stroke="#2e2e2e" stroke-width="0.9"/>
<line x1="740.5" y1="345" x2="740.5" y2="362" stroke="#2e2e2e" stroke-width="0.9"/>
<line x1="738.8" y1="341" x2="738.8" y2="345" stroke="#2e2e2e" stroke-width="0.9"/>
<line x1="736.9" y1="349.2" x2="740.7" y2="349.2" stroke="#3a3a3a" stroke-width="1.5"/>
<line x1="736.9" y1="352" x2="740.7" y2="352" stroke="#3a3a3a" stroke-width="1"/>
<line x1="738.8" y1="345" x2="738.8" y2="362" stroke="#666" stroke-width="0.7"/>
<path d="M737.1 362 L738.8 364 L740.5 362 Z" fill="#333" stroke="#2e2e2e" stroke-width="0.8"/>
<line x1="738.8" y1="364" x2="738.8" y2="368.2" stroke="#2e2e2e" stroke-width="0.9"/>
<line x1="749.1" y1="345" x2="749.1" y2="362" stroke="#2e2e2e" stroke-width="0.9"/>
<line x1="752.5" y1="345" x2="752.5" y2="362" stroke="#2e2e2e" stroke-width="0.9"/>
<line x1="750.8" y1="341" x2="750.8" y2="345" stroke="#2e2e2e" stroke-width="0.9"/>
<line x1="748.9" y1="349.2" x2="752.7" y2="349.2" stroke="#3a3a3a" stroke-width="1.5"/>
<line x1="748.9" y1="352" x2="752.7" y2="352" stroke="#3a3a3a" stroke-width="1"/>
<line x1="750.8" y1="345" x2="750.8" y2="362" stroke="#666" stroke-width="0.7"/>
<path d="M749.1 362 L750.8 364 L752.5 362 Z" fill="#333" stroke="#2e2e2e" stroke-width="0.8"/>
<line x1="750.8" y1="364" x2="750.8" y2="366.4" stroke="#2e2e2e" stroke-width="0.9"/>
<line x1="761.1" y1="345" x2="761.1" y2="362" stroke="#2e2e2e" stroke-width="0.9"/>
<line x1="764.5" y1="345" x2="764.5" y2="362" stroke="#2e2e2e" stroke-width="0.9"/>
<line x1="762.8" y1="341" x2="762.8" y2="345" stroke="#2e2e2e" stroke-width="0.9"/>
<line x1="760.9" y1="349.2" x2="764.7" y2="349.2" stroke="#3a3a3a" stroke-width="1.5"/>
<line x1="760.9" y1="352" x2="764.7" y2="352" stroke="#3a3a3a" stroke-width="1"/>
<line x1="762.8" y1="345" x2="762.8" y2="362" stroke="#666" stroke-width="0.7"/>
<path d="M761.1 362 L762.8 364 L764.5 362 Z" fill="#333" stroke="#2e2e2e" stroke-width="0.8"/>
<line x1="762.8" y1="364" x2="762.8" y2="368.2" stroke="#2e2e2e" stroke-width="0.9"/>
<line x1="773.1" y1="345" x2="773.1" y2="362" stroke="#2e2e2e" stroke-width="0.9"/>
<line x1="776.5" y1="345" x2="776.5" y2="362" stroke="#2e2e2e" stroke-width="0.9"/>
<line x1="774.8" y1="341" x2="774.8" y2="345" stroke="#2e2e2e" stroke-width="0.9"/>
<line x1="772.9" y1="349.2" x2="776.7" y2="349.2" stroke="#3a3a3a" stroke-width="1.5"/>
<line x1="772.9" y1="352" x2="776.7" y2="352" stroke="#3a3a3a" stroke-width="1"/>
<line x1="774.8" y1="345" x2="774.8" y2="362" stroke="#666" stroke-width="0.7"/>
<path d="M773.1 362 L774.8 364 L776.5 362 Z" fill="#333" stroke="#2e2e2e" stroke-width="0.8"/>
<line x1="774.8" y1="364" x2="774.8" y2="366.4" stroke="#2e2e2e" stroke-width="0.9"/>
<path d="M643 373.4 V302.6 H650.4 V305.2 L653.8 309.2 V356.5 L650.8 363.2 V373.4 Z" fill="none" stroke="#2e2e2e" stroke-width="1"/>
<path d="M647.2 356.5 H653.8 M647.2 356.5 L649.6 363.2 H650.8" fill="none" stroke="#2e2e2e" stroke-width="0.8"/>
<line x1="644.6" y1="304" x2="644.6" y2="372" stroke="#777" stroke-width="0.7"/>
<circle cx="650" cy="379.7" r="1.9" fill="#111" stroke="#2e2e2e" stroke-width="0.8"/>
<line x1="637" y1="386.8" x2="649.6" y2="386.8" stroke="#2e2e2e" stroke-width="1"/>
<path d="M646.6 406.3 V390.8 H638.6 Q635.8 390.8 635.8 393.6 V403.5 Q635.8 406.3 638.6 406.3" fill="none" stroke="#2e2e2e" stroke-width="1"/>
<line x1="641.6" y1="390.8" x2="641.6" y2="406.3" stroke="#2e2e2e" stroke-width="0.8"/>
<line x1="644.4" y1="390.8" x2="644.4" y2="406.3" stroke="#2e2e2e" stroke-width="0.8"/>
<line x1="649.6" y1="386.8" x2="649.6" y2="406.3" stroke="#2e2e2e" stroke-width="1"/>
<line x1="649.6" y1="401.6" x2="678.4" y2="401.6" stroke="#2e2e2e" stroke-width="1"/>
<path d="M683.8 389.6 C698 386 710 384.7 722 384.7 C742 384.7 760 389.5 775 395.6 H788.3" fill="none" stroke="#2e2e2e" stroke-width="1"/>
<path d="M788.3 380 H781.5 Q778.7 380 778.7 382.8 V392.8 Q778.7 395.6 781.5 395.6" fill="none" stroke="#2e2e2e" stroke-width="1"/>
<line x1="788.3" y1="374.6" x2="788.3" y2="395.6" stroke="#2e2e2e" stroke-width="1"/>
<line x1="784.2" y1="374.6" x2="784.2" y2="380" stroke="#2e2e2e" stroke-width="0.9"/>
<line x1="786.2" y1="380" x2="786.2" y2="395.6" stroke="#666" stroke-width="0.7"/>
<path d="M214.7 517.3 H364 Q366 517.3 366 519.3 V536 Q366 538 364 538 H214.7 Q211.7 538 211.7 535 V520.3 Q211.7 517.3 214.7 517.3 Z" fill="none" stroke="#2e2e2e" stroke-width="1"/>
<path d="M213.4 536.5 V521.5 Q213.4 520 215.4 520 H336" fill="none" stroke="#2e2e2e" stroke-width="0.9"/>
<line x1="220" y1="530.2" x2="317.3" y2="530.2" stroke="#2e2e2e" stroke-width="0.9"/>
<line x1="214" y1="529.6" x2="220" y2="529.6" stroke="#2e2e2e" stroke-width="0.9"/>
<line x1="220" y1="529.6" x2="220" y2="532.6" stroke="#2e2e2e" stroke-width="0.9"/>
<line x1="214" y1="537.2" x2="318" y2="537.2" stroke="#3a3a3a" stroke-width="1.2"/>
<rect x="224.9" y="523.3" width="3" height="6.3" fill="none" stroke="#222" stroke-width="1.1"/>
<line x1="224.8" y1="525.6" x2="228" y2="525.6" stroke="#222" stroke-width="1"/>
<rect x="225" y="533" width="2.8" height="3.8" fill="#555" stroke="#222" stroke-width="1.1"/>
<line x1="226.4" y1="520" x2="226.4" y2="523.3" stroke="#2e2e2e" stroke-width="0.8"/>
<rect x="236.9" y="523.3" width="3" height="6.3" fill="none" stroke="#222" stroke-width="1.1"/>
<line x1="236.8" y1="525.6" x2="240" y2="525.6" stroke="#222" stroke-width="1"/>
<rect x="237" y="533" width="2.8" height="3.8" fill="#555" stroke="#222" stroke-width="1.1"/>
<line x1="238.4" y1="520" x2="238.4" y2="523.3" stroke="#2e2e2e" stroke-width="0.8"/>
<rect x="248.9" y="523.3" width="3" height="6.3" fill="none" stroke="#222" stroke-width="1.1"/>
<line x1="248.8" y1="525.6" x2="252" y2="525.6" stroke="#222" stroke-width="1"/>
<rect x="249" y="533" width="2.8" height="3.8" fill="#555" stroke="#222" stroke-width="1.1"/>
<line x1="250.4" y1="520" x2="250.4" y2="523.3" stroke="#2e2e2e" stroke-width="0.8"/>
<rect x="260.9" y="523.3" width="3" height="6.3" fill="none" stroke="#222" stroke-width="1.1"/>
<line x1="260.8" y1="525.6" x2="264" y2="525.6" stroke="#222" stroke-width="1"/>
<rect x="261" y="533" width="2.8" height="3.8" fill="#555" stroke="#222" stroke-width="1.1"/>
<line x1="262.4" y1="520" x2="262.4" y2="523.3" stroke="#2e2e2e" stroke-width="0.8"/>
<rect x="273.2" y="523.3" width="3" height="6.3" fill="none" stroke="#222" stroke-width="1.1"/>
<line x1="273.1" y1="525.6" x2="276.3" y2="525.6" stroke="#222" stroke-width="1"/>
<rect x="273.3" y="533" width="2.8" height="3.8" fill="#555" stroke="#222" stroke-width="1.1"/>
<line x1="274.7" y1="520" x2="274.7" y2="523.3" stroke="#2e2e2e" stroke-width="0.8"/>
<rect x="285.2" y="523.3" width="3" height="6.3" fill="none" stroke="#222" stroke-width="1.1"/>
<line x1="285.1" y1="525.6" x2="288.3" y2="525.6" stroke="#222" stroke-width="1"/>
<rect x="285.3" y="533" width="2.8" height="3.8" fill="#555" stroke="#222" stroke-width="1.1"/>
<line x1="286.7" y1="520" x2="286.7" y2="523.3" stroke="#2e2e2e" stroke-width="0.8"/>
<rect x="296.9" y="523.3" width="3" height="6.3" fill="none" stroke="#222" stroke-width="1.1"/>
<line x1="296.8" y1="525.6" x2="300" y2="525.6" stroke="#222" stroke-width="1"/>
<rect x="297" y="533" width="2.8" height="3.8" fill="#555" stroke="#222" stroke-width="1.1"/>
<line x1="298.4" y1="520" x2="298.4" y2="523.3" stroke="#2e2e2e" stroke-width="0.8"/>
<rect x="308.9" y="523.3" width="3" height="6.3" fill="none" stroke="#222" stroke-width="1.1"/>
<line x1="308.8" y1="525.6" x2="312" y2="525.6" stroke="#222" stroke-width="1"/>
<rect x="309" y="533" width="2.8" height="3.8" fill="#555" stroke="#222" stroke-width="1.1"/>
<line x1="310.4" y1="520" x2="310.4" y2="523.3" stroke="#2e2e2e" stroke-width="0.8"/>
<path d="M224 521.5 L226.4 519.8 M241 526 L245 521 H250 M258 521 H262 M270 526 L273 521.5 H280 M283 521 H290 L292 526 M306 521 L309 526" fill="none" stroke="#2e2e2e" stroke-width="0.8"/>
<line x1="304.6" y1="530.2" x2="304.6" y2="537" stroke="#2e2e2e" stroke-width="0.8"/>
<path d="M318.7 530.2 V534 H332 V531 H337.4" fill="none" stroke="#2e2e2e" stroke-width="0.9"/>
<path d="M322 530 V525 H324 V530" fill="none" stroke="#2e2e2e" stroke-width="0.8"/>
<path d="M326 520 H334 V528.4 H337.4 M331.5 520 V528.4" fill="none" stroke="#2e2e2e" stroke-width="0.9"/>
<line x1="336.4" y1="519.5" x2="336.4" y2="528.4" stroke="#3a3a3a" stroke-width="1.6"/>
<line x1="318.7" y1="534.6" x2="354.7" y2="534.6" stroke="#2e2e2e" stroke-width="0.9"/>
<line x1="318.7" y1="536.4" x2="356" y2="536.4" stroke="#2e2e2e" stroke-width="0.9"/>
<path d="M366 520 V536 M364 517.6 H357.4 Q354.7 517.6 354.7 520.3 V535.4" fill="none" stroke="#2e2e2e" stroke-width="1"/>
<rect x="356.8" y="519.6" width="7.2" height="15.8" fill="none" stroke="#2e2e2e" stroke-width="0.9" rx="1"/>
<line x1="340" y1="518.6" x2="354.7" y2="518.6" stroke="#2e2e2e" stroke-width="0.9"/>
<line x1="962.9" y1="273.5" x2="1117.5" y2="273.5" stroke="#2e2e2e" stroke-width="1"/>
<line x1="1116.2" y1="273.5" x2="1116.2" y2="422.3" stroke="#777" stroke-width="1" stroke-dasharray="1.3 1.3"/>
<path d="M975.8 431 C990 424.6 1006 419.6 1024 419.6 C1040 419.6 1054 421.2 1066.9 423.8 V440.1" fill="none" stroke="#2e2e2e" stroke-width="1"/>
<rect x="974.9" y="270.5" width="20.6" height="15.6" fill="none" stroke="#2e2e2e" stroke-width="0.8"/>
<line x1="980.1" y1="270.5" x2="974.9" y2="275.7" stroke="#2e2e2e" stroke-width="1"/>
<line x1="985.3" y1="270.5" x2="974.9" y2="280.9" stroke="#2e2e2e" stroke-width="1"/>
<line x1="990.5" y1="270.5" x2="974.9" y2="286.1" stroke="#2e2e2e" stroke-width="1"/>
<line x1="995.5" y1="270.7" x2="980.1" y2="286.1" stroke="#2e2e2e" stroke-width="1"/>
<line x1="995.5" y1="275.9" x2="985.3" y2="286.1" stroke="#2e2e2e" stroke-width="1"/>
<line x1="995.5" y1="281.1" x2="990.5" y2="286.1" stroke="#2e2e2e" stroke-width="1"/>
<rect x="1037.8" y="270.5" width="19.9" height="15.6" fill="none" stroke="#2e2e2e" stroke-width="0.8"/>
<line x1="1043" y1="270.5" x2="1037.8" y2="275.7" stroke="#2e2e2e" stroke-width="1"/>
<line x1="1048.2" y1="270.5" x2="1037.8" y2="280.9" stroke="#2e2e2e" stroke-width="1"/>
<line x1="1053.4" y1="270.5" x2="1037.8" y2="286.1" stroke="#2e2e2e" stroke-width="1"/>
<line x1="1057.7" y1="271.4" x2="1043" y2="286.1" stroke="#2e2e2e" stroke-width="1"/>
<line x1="1057.7" y1="276.6" x2="1048.2" y2="286.1" stroke="#2e2e2e" stroke-width="1"/>
<line x1="1057.7" y1="281.8" x2="1053.4" y2="286.1" stroke="#2e2e2e" stroke-width="1"/>
<rect x="959.6" y="411.5" width="16.2" height="20.9" fill="none" stroke="#2e2e2e" stroke-width="0.8"/>
<line x1="964.8" y1="411.5" x2="959.6" y2="416.7" stroke="#2e2e2e" stroke-width="1"/>
<line x1="970" y1="411.5" x2="959.6" y2="421.9" stroke="#2e2e2e" stroke-width="1"/>
<line x1="975.2" y1="411.5" x2="959.6" y2="427.1" stroke="#2e2e2e" stroke-width="1"/>
<line x1="975.8" y1="416.1" x2="959.6" y2="432.3" stroke="#2e2e2e" stroke-width="1"/>
<line x1="975.8" y1="421.3" x2="964.7" y2="432.4" stroke="#2e2e2e" stroke-width="1"/>
<line x1="975.8" y1="426.5" x2="969.9" y2="432.4" stroke="#2e2e2e" stroke-width="1"/>
<line x1="975.8" y1="431.7" x2="975.1" y2="432.4" stroke="#2e2e2e" stroke-width="1"/>
<rect x="1103.7" y="422.3" width="15.3" height="20.8" fill="none" stroke="#2e2e2e" stroke-width="0.8"/>
<line x1="1108.9" y1="422.3" x2="1103.7" y2="427.5" stroke="#2e2e2e" stroke-width="1"/>
<line x1="1114.1" y1="422.3" x2="1103.7" y2="432.7" stroke="#2e2e2e" stroke-width="1"/>
<line x1="1119" y1="422.6" x2="1103.7" y2="437.9" stroke="#2e2e2e" stroke-width="1"/>
<line x1="1119" y1="427.8" x2="1103.7" y2="443.1" stroke="#2e2e2e" stroke-width="1"/>
<line x1="1119" y1="433" x2="1108.9" y2="443.1" stroke="#2e2e2e" stroke-width="1"/>
<line x1="1119" y1="438.2" x2="1114.1" y2="443.1" stroke="#2e2e2e" stroke-width="1"/>
<rect x="971.9" y="382.4" width="9.2" height="17.2" fill="none" stroke="#2e2e2e" stroke-width="0.8"/>
<line x1="976.5" y1="382.4" x2="971.9" y2="387" stroke="#2e2e2e" stroke-width="0.95"/>
<line x1="981.1" y1="382.4" x2="971.9" y2="391.6" stroke="#2e2e2e" stroke-width="0.95"/>
<line x1="981.1" y1="387" x2="971.9" y2="396.2" stroke="#2e2e2e" stroke-width="0.95"/>
<line x1="981.1" y1="391.6" x2="973.1" y2="399.6" stroke="#2e2e2e" stroke-width="0.95"/>
<line x1="981.1" y1="396.2" x2="977.7" y2="399.6" stroke="#2e2e2e" stroke-width="0.95"/>
<rect x="983.5" y="382.4" width="9.2" height="17.2" fill="none" stroke="#2e2e2e" stroke-width="0.8"/>
<line x1="988.1" y1="382.4" x2="983.5" y2="387" stroke="#2e2e2e" stroke-width="0.95"/>
<line x1="992.7" y1="382.4" x2="983.5" y2="391.6" stroke="#2e2e2e" stroke-width="0.95"/>
<line x1="992.7" y1="387" x2="983.5" y2="396.2" stroke="#2e2e2e" stroke-width="0.95"/>
<line x1="992.7" y1="391.6" x2="984.7" y2="399.6" stroke="#2e2e2e" stroke-width="0.95"/>
<line x1="992.7" y1="396.2" x2="989.3" y2="399.6" stroke="#2e2e2e" stroke-width="0.95"/>
<rect x="996.4" y="384.6" width="9.2" height="17.2" fill="none" stroke="#2e2e2e" stroke-width="0.8"/>
<line x1="1001" y1="384.6" x2="996.4" y2="389.2" stroke="#2e2e2e" stroke-width="0.95"/>
<line x1="1005.6" y1="384.6" x2="996.4" y2="393.8" stroke="#2e2e2e" stroke-width="0.95"/>
<line x1="1005.6" y1="389.2" x2="996.4" y2="398.4" stroke="#2e2e2e" stroke-width="0.95"/>
<line x1="1005.6" y1="393.8" x2="997.6" y2="401.8" stroke="#2e2e2e" stroke-width="0.95"/>
<line x1="1005.6" y1="398.4" x2="1002.2" y2="401.8" stroke="#2e2e2e" stroke-width="0.95"/>
<rect x="1008" y="381.8" width="9.2" height="17.2" fill="none" stroke="#2e2e2e" stroke-width="0.8"/>
<line x1="1012.6" y1="381.8" x2="1008" y2="386.4" stroke="#2e2e2e" stroke-width="0.95"/>
<line x1="1017.2" y1="381.8" x2="1008" y2="391" stroke="#2e2e2e" stroke-width="0.95"/>
<line x1="1017.2" y1="386.4" x2="1008" y2="395.6" stroke="#2e2e2e" stroke-width="0.95"/>
<line x1="1017.2" y1="391" x2="1009.2" y2="399" stroke="#2e2e2e" stroke-width="0.95"/>
<line x1="1017.2" y1="395.6" x2="1013.8" y2="399" stroke="#2e2e2e" stroke-width="0.95"/>
<rect x="1020.3" y="384.6" width="9.2" height="17.2" fill="none" stroke="#2e2e2e" stroke-width="0.8"/>
<line x1="1024.9" y1="384.6" x2="1020.3" y2="389.2" stroke="#2e2e2e" stroke-width="0.95"/>
<line x1="1029.5" y1="384.6" x2="1020.3" y2="393.8" stroke="#2e2e2e" stroke-width="0.95"/>
<line x1="1029.5" y1="389.2" x2="1020.3" y2="398.4" stroke="#2e2e2e" stroke-width="0.95"/>
<line x1="1029.5" y1="393.8" x2="1021.5" y2="401.8" stroke="#2e2e2e" stroke-width="0.95"/>
<line x1="1029.5" y1="398.4" x2="1026.1" y2="401.8" stroke="#2e2e2e" stroke-width="0.95"/>
<rect x="1032.3" y="381.8" width="9.2" height="17.8" fill="none" stroke="#2e2e2e" stroke-width="0.8"/>
<line x1="1036.9" y1="381.8" x2="1032.3" y2="386.4" stroke="#2e2e2e" stroke-width="0.95"/>
<line x1="1041.5" y1="381.8" x2="1032.3" y2="391" stroke="#2e2e2e" stroke-width="0.95"/>
<line x1="1041.5" y1="386.4" x2="1032.3" y2="395.6" stroke="#2e2e2e" stroke-width="0.95"/>
<line x1="1041.5" y1="391" x2="1032.9" y2="399.6" stroke="#2e2e2e" stroke-width="0.95"/>
<line x1="1041.5" y1="395.6" x2="1037.5" y2="399.6" stroke="#2e2e2e" stroke-width="0.95"/>
<rect x="1043.9" y="380.3" width="9.2" height="16.9" fill="none" stroke="#2e2e2e" stroke-width="0.8"/>
<line x1="1048.5" y1="380.3" x2="1043.9" y2="384.9" stroke="#2e2e2e" stroke-width="0.95"/>
<line x1="1053.1" y1="380.3" x2="1043.9" y2="389.5" stroke="#2e2e2e" stroke-width="0.95"/>
<line x1="1053.1" y1="384.9" x2="1043.9" y2="394.1" stroke="#2e2e2e" stroke-width="0.95"/>
<line x1="1053.1" y1="389.5" x2="1045.4" y2="397.2" stroke="#2e2e2e" stroke-width="0.95"/>
<line x1="1053.1" y1="394.1" x2="1050" y2="397.2" stroke="#2e2e2e" stroke-width="0.95"/>
<rect x="1056.2" y="382.4" width="9.2" height="17.2" fill="none" stroke="#2e2e2e" stroke-width="0.8"/>
<line x1="1060.8" y1="382.4" x2="1056.2" y2="387" stroke="#2e2e2e" stroke-width="0.95"/>
<line x1="1065.4" y1="382.4" x2="1056.2" y2="391.6" stroke="#2e2e2e" stroke-width="0.95"/>
<line x1="1065.4" y1="387" x2="1056.2" y2="396.2" stroke="#2e2e2e" stroke-width="0.95"/>
<line x1="1065.4" y1="391.6" x2="1057.4" y2="399.6" stroke="#2e2e2e" stroke-width="0.95"/>
<line x1="1065.4" y1="396.2" x2="1062" y2="399.6" stroke="#2e2e2e" stroke-width="0.95"/>
<text x="987.5" y="292.6" font-family='"Liberation Sans", sans-serif' font-size="4.6" fill="#555" stroke="#555" stroke-width="0.1" textLength="5" lengthAdjust="spacingAndGlyphs">CD</text>
<text x="1040.3" y="292.6" font-family='"Liberation Sans", sans-serif' font-size="4.6" fill="#555" stroke="#555" stroke-width="0.1" textLength="5" lengthAdjust="spacingAndGlyphs">CD</text>
<text x="970.5" y="379.2" font-family='"Liberation Sans", sans-serif' font-size="4.6" fill="#555" stroke="#555" stroke-width="0.1" textLength="9.5" lengthAdjust="spacingAndGlyphs">PIN8</text>
<text x="984.6" y="379.2" font-family='"Liberation Sans", sans-serif' font-size="4.6" fill="#555" stroke="#555" stroke-width="0.1" textLength="9.4" lengthAdjust="spacingAndGlyphs">PIN7</text>
<text x="1042.6" y="376.4" font-family='"Liberation Sans", sans-serif' font-size="4.6" fill="#555" stroke="#555" stroke-width="0.1" textLength="9.4" lengthAdjust="spacingAndGlyphs">PIN2</text>
<text x="1056.4" y="378.2" font-family='"Liberation Sans", sans-serif' font-size="4.6" fill="#555" stroke="#555" stroke-width="0.1" textLength="9.6" lengthAdjust="spacingAndGlyphs">PIN1</text>
<text x="958.8" y="408.8" font-family='"Liberation Sans", sans-serif' font-size="4.6" fill="#555" stroke="#555" stroke-width="0.1" textLength="4.4" lengthAdjust="spacingAndGlyphs">G1</text>
<text x="1103" y="419.6" font-family='"Liberation Sans", sans-serif' font-size="4.6" fill="#555" stroke="#555" stroke-width="0.1" textLength="4.6" lengthAdjust="spacingAndGlyphs">G2</text>
<line x1="201.5" y1="212" x2="201.5" y2="237.5" stroke="#2e2e2e" stroke-width="1"/>
<line x1="355" y1="212" x2="355" y2="237.5" stroke="#2e2e2e" stroke-width="1"/>
<line x1="201.5" y1="215.7" x2="355" y2="215.7" stroke="#2e2e2e" stroke-width="1"/>
<polygon points="201.5,215.7 210,214 210,217.4" fill="#111"/>
<polygon points="355,215.7 346.5,214 346.5,217.4" fill="#111"/>
<text x="259.3" y="213.3" font-family='"Liberation Sans", sans-serif' font-size="18.58" fill="#161616" stroke="#161616" stroke-width="0.41" textLength="38" lengthAdjust="spacingAndGlyphs">14.00</text>
<line x1="142.7" y1="239.6" x2="201" y2="239.6" stroke="#2e2e2e" stroke-width="1"/>
<line x1="142.7" y1="364.4" x2="236" y2="364.4" stroke="#2e2e2e" stroke-width="1"/>
<line x1="146.7" y1="239.6" x2="146.7" y2="364.4" stroke="#2e2e2e" stroke-width="1"/>
<polygon points="146.7,239.6 145,248.1 148.4,248.1" fill="#111"/>
<polygon points="146.7,364.4 145,355.9 148.4,355.9" fill="#111"/>
<text font-family='"Liberation Sans", sans-serif' font-size="19.55" fill="#161616" textLength="38.7" lengthAdjust="spacingAndGlyphs" transform="translate(143.5 321.5) rotate(-90)" stroke="#161616" stroke-width="0.43">11.45</text>
<line x1="180" y1="362.4" x2="217.5" y2="362.4" stroke="#2e2e2e" stroke-width="1"/>
<line x1="184.6" y1="239.6" x2="184.6" y2="362.4" stroke="#2e2e2e" stroke-width="1"/>
<polygon points="184.6,239.6 182.9,248.1 186.3,248.1" fill="#111"/>
<polygon points="184.6,362.4 182.9,353.9 186.3,353.9" fill="#111"/>
<text font-family='"Liberation Sans", sans-serif' font-size="19.55" fill="#161616" textLength="38.5" lengthAdjust="spacingAndGlyphs" transform="translate(181.3 320) rotate(-90)" stroke="#161616" stroke-width="0.43">11.25</text>
<line x1="356" y1="239.6" x2="411" y2="239.6" stroke="#2e2e2e" stroke-width="1"/>
<line x1="260.5" y1="359.9" x2="411" y2="359.9" stroke="#2e2e2e" stroke-width="1"/>
<line x1="407" y1="239.6" x2="407" y2="359.9" stroke="#2e2e2e" stroke-width="1"/>
<polygon points="407,239.6 405.3,248.1 408.7,248.1" fill="#111"/>
<polygon points="407,359.9 405.3,351.4 408.7,351.4" fill="#111"/>
<text font-family='"Liberation Sans", sans-serif' font-size="19.55" fill="#161616" textLength="39" lengthAdjust="spacingAndGlyphs" transform="translate(404 319) rotate(-90)" stroke="#161616" stroke-width="0.43">11.05</text>
<line x1="437.8" y1="253.4" x2="437.8" y2="406.2" stroke="#2e2e2e" stroke-width="1"/>
<polygon points="437.8,406.2 436.1,397.7 439.5,397.7" fill="#111"/>
<line x1="437.8" y1="412.3" x2="437.8" y2="429.7" stroke="#2e2e2e" stroke-width="1"/>
<polygon points="437.8,412.3 436.1,420.8 439.5,420.8" fill="#111"/>
<text font-family='"Liberation Sans", sans-serif' font-size="11.17" fill="#333" textLength="84" lengthAdjust="spacingAndGlyphs" transform="translate(434.6 340) rotate(-90)" stroke="#333" stroke-width="0.25">0.80  CARD PUSH IN</text>
<line x1="460.5" y1="212.6" x2="460.5" y2="406.2" stroke="#2e2e2e" stroke-width="1"/>
<polygon points="460.5,406.2 458.8,397.7 462.2,397.7" fill="#111"/>
<line x1="460.5" y1="421.6" x2="460.5" y2="437.7" stroke="#2e2e2e" stroke-width="1"/>
<polygon points="460.5,421.6 458.8,430.1 462.2,430.1" fill="#111"/>
<text font-family='"Liberation Sans", sans-serif' font-size="11.17" fill="#333" textLength="112.3" lengthAdjust="spacingAndGlyphs" transform="translate(457.6 327) rotate(-90)" stroke="#333" stroke-width="0.25">1.85 CARD LOCK POSITION</text>
<line x1="482.6" y1="252.6" x2="482.6" y2="455.2" stroke="#2e2e2e" stroke-width="1"/>
<polygon points="482.6,406.4 480.9,414.9 484.3,414.9" fill="#111"/>
<polygon points="482.6,455.2 480.9,446.7 484.3,446.7" fill="#111"/>
<text font-family='"Liberation Sans", sans-serif' font-size="11.17" fill="#333" textLength="93" lengthAdjust="spacingAndGlyphs" transform="translate(480 349) rotate(-90)" stroke="#333" stroke-width="0.25">5.50  CARD PUSH OUT</text>
<line x1="329" y1="406.4" x2="485.8" y2="406.4" stroke="#2e2e2e" stroke-width="1"/>
<line x1="326" y1="412.2" x2="440.5" y2="412.2" stroke="#2e2e2e" stroke-width="1"/>
<line x1="326" y1="421.5" x2="463" y2="421.5" stroke="#2e2e2e" stroke-width="1"/>
<line x1="320" y1="455.2" x2="485.8" y2="455.2" stroke="#2e2e2e" stroke-width="1"/>
<line x1="380" y1="445.3" x2="380" y2="546" stroke="#2e2e2e" stroke-width="1"/>
<polygon points="380,518.4 378.3,509.9 381.7,509.9" fill="#111"/>
<polygon points="380,528.6 378.3,537.1 381.7,537.1" fill="#111"/>
<line x1="366" y1="518.4" x2="383.3" y2="518.4" stroke="#2e2e2e" stroke-width="1"/>
<line x1="337.3" y1="528.6" x2="383.3" y2="528.6" stroke="#2e2e2e" stroke-width="1"/>
<text font-family='"Liberation Sans", sans-serif' font-size="18.85" fill="#161616" textLength="30.6" lengthAdjust="spacingAndGlyphs" transform="translate(377 477.3) rotate(-90)" stroke="#161616" stroke-width="0.41">0.90</text>
<line x1="214.4" y1="503" x2="214.4" y2="519" stroke="#2e2e2e" stroke-width="1"/>
<line x1="337.2" y1="503" x2="337.2" y2="528" stroke="#2e2e2e" stroke-width="1"/>
<line x1="214.4" y1="506.7" x2="337.2" y2="506.7" stroke="#2e2e2e" stroke-width="1"/>
<polygon points="214.4,506.7 222.9,505 222.9,508.4" fill="#111"/>
<polygon points="337.2,506.7 328.7,505 328.7,508.4" fill="#111"/>
<text x="256.5" y="504" font-family='"Liberation Sans", sans-serif' font-size="18.72" fill="#161616" stroke="#161616" stroke-width="0.41" textLength="38.5" lengthAdjust="spacingAndGlyphs">11.18</text>
<rect x="504.8" y="74.9" width="36.6" height="100.6" fill="none" stroke="#2e2e2e" stroke-width="1"/>
<line x1="504.8" y1="130.1" x2="541.4" y2="130.1" stroke="#2e2e2e" stroke-width="1"/>
<text font-family='"Liberation Sans", sans-serif' font-size="23.74" fill="#161616" textLength="38.7" lengthAdjust="spacingAndGlyphs" transform="translate(532 122.1) rotate(-90)" stroke="#161616" stroke-width="0.52">0.10</text>
<path d="M532.6 139.5 V166.2 C520 166.2 514.2 160 514.2 152.8 C514.2 145.5 520 139.5 532.6 139.5 Z" fill="none" stroke="#555" stroke-width="0.9"/>
<line x1="541.4" y1="175.5" x2="541.4" y2="239.6" stroke="#2e2e2e" stroke-width="1"/>
<line x1="521.3" y1="189.7" x2="521.3" y2="239.6" stroke="#2e2e2e" stroke-width="1"/>
<line x1="503.5" y1="192.4" x2="521.3" y2="192.4" stroke="#2e2e2e" stroke-width="1"/>
<polygon points="521.3,192.4 512.8,190.7 512.8,194.1" fill="#111"/>
<line x1="541.4" y1="192.4" x2="671.7" y2="192.4" stroke="#2e2e2e" stroke-width="1"/>
<polygon points="541.4,192.4 549.9,190.7 549.9,194.1" fill="#111"/>
<text x="600.7" y="190.2" font-family='"Liberation Sans", sans-serif' font-size="18.99" fill="#161616" stroke="#161616" stroke-width="0.42" textLength="69.3" lengthAdjust="spacingAndGlyphs">1.85±0.10</text>
<line x1="630" y1="226.4" x2="703.8" y2="226.4" stroke="#2e2e2e" stroke-width="1"/>
<polygon points="703.8,226.4 695.3,224.7 695.3,228.1" fill="#111"/>
<line x1="711.4" y1="226.4" x2="728.3" y2="226.4" stroke="#2e2e2e" stroke-width="1"/>
<polygon points="711.4,226.4 719.9,224.7 719.9,228.1" fill="#111"/>
<text x="631.7" y="223.6" font-family='"Liberation Sans", sans-serif' font-size="18.58" fill="#161616" stroke="#161616" stroke-width="0.41" textLength="30.3" lengthAdjust="spacingAndGlyphs">0.76</text>
<line x1="703.8" y1="211.6" x2="703.8" y2="233.6" stroke="#2e2e2e" stroke-width="1"/>
<line x1="703.8" y1="236.2" x2="703.8" y2="259.6" stroke="#2e2e2e" stroke-width="1"/>
<line x1="765.7" y1="211.6" x2="765.7" y2="233.6" stroke="#2e2e2e" stroke-width="1"/>
<line x1="765.7" y1="236.2" x2="765.7" y2="259.6" stroke="#2e2e2e" stroke-width="1"/>
<line x1="703.8" y1="214.8" x2="765.7" y2="214.8" stroke="#2e2e2e" stroke-width="1"/>
<polygon points="703.8,214.8 712.3,213.1 712.3,216.5" fill="#111"/>
<polygon points="765.7,214.8 757.2,213.1 757.2,216.5" fill="#111"/>
<text x="719.5" y="212.6" font-family='"Liberation Sans", sans-serif' font-size="18.99" fill="#161616" stroke="#161616" stroke-width="0.42" textLength="29.7" lengthAdjust="spacingAndGlyphs">5.70</text>
<line x1="741.7" y1="227.6" x2="759" y2="227.6" stroke="#2e2e2e" stroke-width="1"/>
<polygon points="759,227.6 750.5,225.9 750.5,229.3" fill="#111"/>
<line x1="772.4" y1="227.6" x2="839.1" y2="227.6" stroke="#2e2e2e" stroke-width="1"/>
<polygon points="772.4,227.6 780.9,225.9 780.9,229.3" fill="#111"/>
<line x1="759" y1="222" x2="759" y2="233.6" stroke="#2e2e2e" stroke-width="1"/>
<line x1="759" y1="236.2" x2="759" y2="241" stroke="#2e2e2e" stroke-width="1"/>
<line x1="772.4" y1="222" x2="772.4" y2="233.6" stroke="#2e2e2e" stroke-width="1"/>
<line x1="772.4" y1="236.2" x2="772.4" y2="241" stroke="#2e2e2e" stroke-width="1"/>
<text x="791.9" y="224.9" font-family='"Liberation Sans", sans-serif' font-size="18.58" fill="#161616" stroke="#161616" stroke-width="0.41" textLength="45.4" lengthAdjust="spacingAndGlyphs">2-1.20</text>
<line x1="711.4" y1="222" x2="711.4" y2="233.6" stroke="#2e2e2e" stroke-width="1"/>
<line x1="711.4" y1="236.2" x2="711.4" y2="465.7" stroke="#2e2e2e" stroke-width="1"/>
<line x1="580" y1="239.6" x2="636" y2="239.6" stroke="#2e2e2e" stroke-width="1"/>
<line x1="580" y1="406.3" x2="683" y2="406.3" stroke="#2e2e2e" stroke-width="1"/>
<line x1="584.7" y1="239.6" x2="584.7" y2="406.3" stroke="#2e2e2e" stroke-width="1"/>
<polygon points="584.7,239.6 583,248.1 586.4,248.1" fill="#111"/>
<polygon points="584.7,406.3 583,397.8 586.4,397.8" fill="#111"/>
<text font-family='"Liberation Sans", sans-serif' font-size="19.13" fill="#161616" textLength="38.7" lengthAdjust="spacingAndGlyphs" transform="translate(582 353.5) rotate(-90)" stroke="#161616" stroke-width="0.42">15.25</text>
<line x1="620.2" y1="318.8" x2="620.2" y2="390.9" stroke="#2e2e2e" stroke-width="1"/>
<polygon points="620.2,390.9 618.5,382.4 621.9,382.4" fill="#111"/>
<line x1="620.2" y1="406.3" x2="620.2" y2="424.3" stroke="#2e2e2e" stroke-width="1"/>
<polygon points="620.2,406.3 618.5,414.8 621.9,414.8" fill="#111"/>
<line x1="616.7" y1="390.9" x2="636" y2="390.9" stroke="#2e2e2e" stroke-width="1"/>
<text font-family='"Liberation Sans", sans-serif' font-size="18.99" fill="#161616" textLength="29.4" lengthAdjust="spacingAndGlyphs" transform="translate(618 349.5) rotate(-90)" stroke="#161616" stroke-width="0.42">1.40</text>
<line x1="592.1" y1="445.1" x2="689.2" y2="445.1" stroke="#2e2e2e" stroke-width="1"/>
<polygon points="689.2,445.1 680.7,443.4 680.7,446.8" fill="#111"/>
<line x1="692.6" y1="445.1" x2="709.1" y2="445.1" stroke="#2e2e2e" stroke-width="1"/>
<polygon points="692.6,445.1 701.1,443.4 701.1,446.8" fill="#111"/>
<text x="594.3" y="443" font-family='"Liberation Sans", sans-serif' font-size="18.99" fill="#161616" stroke="#161616" stroke-width="0.42" textLength="45.9" lengthAdjust="spacingAndGlyphs">8-0.30</text>
<line x1="689.2" y1="365.5" x2="689.2" y2="449.6" stroke="#2e2e2e" stroke-width="1"/>
<line x1="692.6" y1="365.5" x2="692.6" y2="503.5" stroke="#2e2e2e" stroke-width="1"/>
<line x1="690.9" y1="366" x2="690.9" y2="449" stroke="#c9c9c9" stroke-width="2.2"/>
<line x1="711.4" y1="423.3" x2="763" y2="423.3" stroke="#2e2e2e" stroke-width="1"/>
<polygon points="763,423.3 754.5,421.6 754.5,425" fill="#111"/>
<line x1="775" y1="423.3" x2="791.9" y2="423.3" stroke="#2e2e2e" stroke-width="1"/>
<polygon points="775,423.3 783.5,421.6 783.5,425" fill="#111"/>
<line x1="763" y1="369.8" x2="763" y2="426.2" stroke="#2e2e2e" stroke-width="1"/>
<line x1="775" y1="369.8" x2="775" y2="504" stroke="#2e2e2e" stroke-width="1"/>
<text x="714.6" y="420.8" font-family='"Liberation Sans", sans-serif' font-size="18.99" fill="#161616" stroke="#161616" stroke-width="0.42" textLength="28.4" lengthAdjust="spacingAndGlyphs">1.10</text>
<line x1="711.4" y1="462.5" x2="775" y2="462.5" stroke="#2e2e2e" stroke-width="1"/>
<polygon points="711.4,462.5 719.9,460.8 719.9,464.2" fill="#111"/>
<polygon points="775,462.5 766.5,460.8 766.5,464.2" fill="#111"/>
<text x="728.3" y="460.3" font-family='"Liberation Sans", sans-serif' font-size="18.58" fill="#161616" stroke="#161616" stroke-width="0.41" textLength="29.4" lengthAdjust="spacingAndGlyphs">5.76</text>
<line x1="692.6" y1="501.7" x2="775" y2="501.7" stroke="#2e2e2e" stroke-width="1"/>
<polygon points="692.6,501.7 701.1,500 701.1,503.4" fill="#111"/>
<polygon points="775,501.7 766.5,500 766.5,503.4" fill="#111"/>
<text x="717.7" y="499" font-family='"Liberation Sans", sans-serif' font-size="18.58" fill="#161616" stroke="#161616" stroke-width="0.41" textLength="29.3" lengthAdjust="spacingAndGlyphs">7.70</text>
<line x1="788" y1="239.6" x2="848" y2="239.6" stroke="#2e2e2e" stroke-width="1"/>
<line x1="791" y1="394.9" x2="848" y2="394.9" stroke="#2e2e2e" stroke-width="1"/>
<line x1="844.3" y1="239.6" x2="844.3" y2="394.9" stroke="#2e2e2e" stroke-width="1"/>
<polygon points="844.3,239.6 842.6,248.1 846,248.1" fill="#111"/>
<polygon points="844.3,394.9 842.6,386.4 846,386.4" fill="#111"/>
<text font-family='"Liberation Sans", sans-serif' font-size="18.99" fill="#161616" textLength="38.7" lengthAdjust="spacingAndGlyphs" transform="translate(842.3 337.5) rotate(-90)" stroke="#161616" stroke-width="0.42">14.25</text>
<line x1="809.8" y1="363.7" x2="809.8" y2="380.2" stroke="#2e2e2e" stroke-width="1"/>
<polygon points="809.8,380.2 808.1,371.7 811.5,371.7" fill="#111"/>
<line x1="809.8" y1="394.9" x2="809.8" y2="473.7" stroke="#2e2e2e" stroke-width="1"/>
<polygon points="809.8,394.9 808.1,403.4 811.5,403.4" fill="#111"/>
<line x1="791" y1="380.2" x2="812.4" y2="380.2" stroke="#2e2e2e" stroke-width="1"/>
<text font-family='"Liberation Sans", sans-serif' font-size="18.99" fill="#161616" textLength="29.3" lengthAdjust="spacingAndGlyphs" transform="translate(807 472.3) rotate(-90)" stroke="#161616" stroke-width="0.42">1.35</text>
<line x1="844.3" y1="260.7" x2="938.1" y2="260.7" stroke="#2e2e2e" stroke-width="1"/>
<polygon points="938.1,260.7 929.6,259 929.6,262.4" fill="#111"/>
<line x1="938.1" y1="257.6" x2="938.1" y2="268.3" stroke="#2e2e2e" stroke-width="1"/>
<text x="846.5" y="258.3" font-family='"Liberation Sans", sans-serif' font-size="19.13" fill="#161616" stroke="#161616" stroke-width="0.42" textLength="42.5" lengthAdjust="spacingAndGlyphs">1.80*2</text>
<line x1="959" y1="260.8" x2="974.8" y2="260.8" stroke="#2e2e2e" stroke-width="1"/>
<polygon points="959,260.8 966.5,258.6 966.5,263" fill="#111"/>
<line x1="962.9" y1="153.5" x2="962.9" y2="432" stroke="#2e2e2e" stroke-width="1"/>
<line x1="1115.9" y1="153.5" x2="1115.9" y2="272" stroke="#2e2e2e" stroke-width="1"/>
<line x1="962.9" y1="158.9" x2="1115.9" y2="158.9" stroke="#2e2e2e" stroke-width="1"/>
<polygon points="962.9,158.9 971.4,157.2 971.4,160.6" fill="#111"/>
<polygon points="1115.9,158.9 1107.4,157.2 1107.4,160.6" fill="#111"/>
<text x="1019.7" y="156.2" font-family='"Liberation Sans", sans-serif' font-size="18.72" fill="#161616" stroke="#161616" stroke-width="0.41" textLength="38.8" lengthAdjust="spacingAndGlyphs">14.00</text>
<line x1="967.7" y1="190.9" x2="967.7" y2="609" stroke="#2e2e2e" stroke-width="1"/>
<line x1="1047.5" y1="190.9" x2="1047.5" y2="289.5" stroke="#2e2e2e" stroke-width="1"/>
<line x1="967.7" y1="194.1" x2="1047.5" y2="194.1" stroke="#2e2e2e" stroke-width="1"/>
<polygon points="967.7,194.1 976.2,192.4 976.2,195.8" fill="#111"/>
<polygon points="1047.5,194.1 1039,192.4 1039,195.8" fill="#111"/>
<text x="993" y="191.4" font-family='"Liberation Sans", sans-serif' font-size="18.72" fill="#161616" stroke="#161616" stroke-width="0.41" textLength="30" lengthAdjust="spacingAndGlyphs">7.30</text>
<line x1="985" y1="217.6" x2="985" y2="289.5" stroke="#2e2e2e" stroke-width="1"/>
<line x1="1111.6" y1="217.6" x2="1111.6" y2="609" stroke="#2e2e2e" stroke-width="1"/>
<line x1="985" y1="222.1" x2="1047.5" y2="222.1" stroke="#2e2e2e" stroke-width="1"/>
<polygon points="985,222.1 993.5,220.4 993.5,223.8" fill="#111"/>
<polygon points="1047.5,222.1 1039,220.4 1039,223.8" fill="#111"/>
<line x1="1047.5" y1="222.1" x2="1111.6" y2="222.1" stroke="#2e2e2e" stroke-width="1"/>
<polygon points="1047.5,222.1 1056,220.4 1056,223.8" fill="#111"/>
<polygon points="1111.6,222.1 1103.1,220.4 1103.1,223.8" fill="#111"/>
<text x="1001" y="219" font-family='"Liberation Sans", sans-serif' font-size="18.72" fill="#161616" stroke="#161616" stroke-width="0.41" textLength="30" lengthAdjust="spacingAndGlyphs">5.70</text>
<text x="1064.3" y="219" font-family='"Liberation Sans", sans-serif' font-size="18.72" fill="#161616" stroke="#161616" stroke-width="0.41" textLength="29.4" lengthAdjust="spacingAndGlyphs">5.85</text>
<line x1="967.2" y1="256.9" x2="1115.9" y2="256.9" stroke="#2e2e2e" stroke-width="1"/>
<polygon points="1039.5,256.9 1031,255.2 1031,258.6" fill="#111"/>
<polygon points="1047.5,256.9 1056,255.2 1056,258.6" fill="#111"/>
<polygon points="1115.9,256.9 1107.4,255.2 1107.4,258.6" fill="#111"/>
<text x="967.7" y="255" font-family='"Liberation Sans", sans-serif' font-size="18.72" fill="#161616" stroke="#161616" stroke-width="0.41" textLength="30.7" lengthAdjust="spacingAndGlyphs">0.73</text>
<text x="1062.5" y="255" font-family='"Liberation Sans", sans-serif' font-size="18.72" fill="#161616" stroke="#161616" stroke-width="0.41" textLength="30.5" lengthAdjust="spacingAndGlyphs">6.99</text>
<line x1="1039.5" y1="254.5" x2="1039.5" y2="540" stroke="#2e2e2e" stroke-width="1"/>
<line x1="959.2" y1="259" x2="959.2" y2="380.5" stroke="#2e2e2e" stroke-width="1"/>
<polygon points="959.2,270.4 957,262.4 961.4,262.4" fill="#111"/>
<polygon points="959.2,286.1 957.5,294.6 960.9,294.6" fill="#111"/>
<text font-family='"Liberation Sans", sans-serif' font-size="19.27" fill="#161616" textLength="44.4" lengthAdjust="spacingAndGlyphs" transform="translate(957.3 378.7) rotate(-90)" stroke="#161616" stroke-width="0.42">1.40*2</text>
<line x1="1011.7" y1="253" x2="1011.7" y2="325" stroke="#2e2e2e" stroke-width="1"/>
<polygon points="1011.7,270.4 1010,261.9 1013.4,261.9" fill="#111"/>
<polygon points="1011.7,273.6 1010,282.1 1013.4,282.1" fill="#111"/>
<line x1="956.5" y1="270.4" x2="1014.8" y2="270.4" stroke="#2e2e2e" stroke-width="1"/>
<text font-family='"Liberation Sans", sans-serif' font-size="19.13" fill="#161616" textLength="30.5" lengthAdjust="spacingAndGlyphs" transform="translate(1009 323.5) rotate(-90)" stroke="#161616" stroke-width="0.42">0.30</text>
<line x1="885.4" y1="273.5" x2="962.7" y2="273.5" stroke="#2e2e2e" stroke-width="1"/>
<line x1="885.4" y1="429.3" x2="975" y2="429.3" stroke="#2e2e2e" stroke-width="1"/>
<line x1="888.1" y1="273.5" x2="888.1" y2="429.3" stroke="#2e2e2e" stroke-width="1"/>
<polygon points="888.1,273.5 886.4,282 889.8,282" fill="#111"/>
<polygon points="888.1,429.3 886.4,420.8 889.8,420.8" fill="#111"/>
<text font-family='"Liberation Sans", sans-serif' font-size="18.99" fill="#161616" textLength="38.3" lengthAdjust="spacingAndGlyphs" transform="translate(886.2 371) rotate(-90)" stroke="#161616" stroke-width="0.42">14.25</text>
<line x1="922.8" y1="286.1" x2="975" y2="286.1" stroke="#2e2e2e" stroke-width="1"/>
<line x1="922.8" y1="411.5" x2="959.6" y2="411.5" stroke="#2e2e2e" stroke-width="1"/>
<line x1="926.5" y1="286.1" x2="926.5" y2="411.5" stroke="#2e2e2e" stroke-width="1"/>
<polygon points="926.5,286.1 924.8,294.6 928.2,294.6" fill="#111"/>
<polygon points="926.5,411.5 924.8,403 928.2,403" fill="#111"/>
<text font-family='"Liberation Sans", sans-serif' font-size="19.27" fill="#161616" textLength="38.3" lengthAdjust="spacingAndGlyphs" transform="translate(924.3 368) rotate(-90)" stroke="#161616" stroke-width="0.42">11.50</text>
<line x1="1119" y1="273.5" x2="1287.1" y2="273.5" stroke="#2e2e2e" stroke-width="1"/>
<line x1="1057.7" y1="286.1" x2="1254" y2="286.1" stroke="#2e2e2e" stroke-width="1"/>
<line x1="1095.4" y1="286.1" x2="1095.4" y2="383.3" stroke="#2e2e2e" stroke-width="1"/>
<polygon points="1095.4,286.1 1093.7,294.6 1097.1,294.6" fill="#111"/>
<polygon points="1095.4,383.3 1093.7,374.8 1097.1,374.8" fill="#111"/>
<text font-family='"Liberation Sans", sans-serif' font-size="19.27" fill="#161616" textLength="44.5" lengthAdjust="spacingAndGlyphs" transform="translate(1092.3 357.3) rotate(-90)" stroke="#161616" stroke-width="0.42">9.05*2</text>
<line x1="1135" y1="310.3" x2="1135" y2="381.8" stroke="#2e2e2e" stroke-width="1"/>
<polygon points="1135,381.8 1133.3,373.3 1136.7,373.3" fill="#111"/>
<line x1="1135" y1="399.6" x2="1135" y2="417" stroke="#2e2e2e" stroke-width="1"/>
<polygon points="1135,399.6 1133.3,408.1 1136.7,408.1" fill="#111"/>
<text font-family='"Liberation Sans", sans-serif' font-size="19.13" fill="#161616" textLength="29.1" lengthAdjust="spacingAndGlyphs" transform="translate(1132 340.4) rotate(-90)" stroke="#161616" stroke-width="0.42">1.50</text>
<line x1="1178.9" y1="286.1" x2="1178.9" y2="380.3" stroke="#2e2e2e" stroke-width="1"/>
<polygon points="1178.9,286.1 1177.2,294.6 1180.6,294.6" fill="#111"/>
<polygon points="1178.9,380.3 1177.2,371.8 1180.6,371.8" fill="#111"/>
<text font-family='"Liberation Sans", sans-serif' font-size="19.27" fill="#161616" textLength="29.1" lengthAdjust="spacingAndGlyphs" transform="translate(1175.3 348) rotate(-90)" stroke="#161616" stroke-width="0.42">8.65</text>
<line x1="1216.6" y1="286.1" x2="1216.6" y2="382.4" stroke="#2e2e2e" stroke-width="1"/>
<polygon points="1216.6,286.1 1214.9,294.6 1218.3,294.6" fill="#111"/>
<polygon points="1216.6,382.4 1214.9,373.9 1218.3,373.9" fill="#111"/>
<text font-family='"Liberation Sans", sans-serif' font-size="19.13" fill="#161616" textLength="45.1" lengthAdjust="spacingAndGlyphs" transform="translate(1213 357.3) rotate(-90)" stroke="#161616" stroke-width="0.42">8.85*5</text>
<line x1="1250.9" y1="286.1" x2="1250.9" y2="422.3" stroke="#2e2e2e" stroke-width="1"/>
<polygon points="1250.9,286.1 1249.2,294.6 1252.6,294.6" fill="#111"/>
<polygon points="1250.9,422.3 1249.2,413.8 1252.6,413.8" fill="#111"/>
<text font-family='"Liberation Sans", sans-serif' font-size="19.27" fill="#161616" textLength="37.7" lengthAdjust="spacingAndGlyphs" transform="translate(1247.3 373.5) rotate(-90)" stroke="#161616" stroke-width="0.42">12.50</text>
<line x1="1284.7" y1="273.5" x2="1284.7" y2="440.1" stroke="#2e2e2e" stroke-width="1"/>
<polygon points="1284.7,273.5 1283,282 1286.4,282" fill="#111"/>
<polygon points="1284.7,440.1 1283,431.6 1286.4,431.6" fill="#111"/>
<text font-family='"Liberation Sans", sans-serif' font-size="19.13" fill="#161616" textLength="38.4" lengthAdjust="spacingAndGlyphs" transform="translate(1282 375.7) rotate(-90)" stroke="#161616" stroke-width="0.42">15.25</text>
<line x1="1065.4" y1="380.3" x2="1181.9" y2="380.3" stroke="#2e2e2e" stroke-width="1"/>
<line x1="1065.4" y1="382.4" x2="1219.6" y2="382.4" stroke="#2e2e2e" stroke-width="1"/>
<line x1="1060.8" y1="383.3" x2="1099" y2="383.3" stroke="#2e2e2e" stroke-width="1"/>
<line x1="1066.9" y1="399.6" x2="1137" y2="399.6" stroke="#2e2e2e" stroke-width="1"/>
<line x1="1045.5" y1="416.1" x2="1056.2" y2="416.1" stroke="#2e2e2e" stroke-width="1"/>
<polygon points="1056.2,416.1 1047.7,414.4 1047.7,417.8" fill="#111"/>
<line x1="1065.4" y1="416.1" x2="1189.6" y2="416.1" stroke="#2e2e2e" stroke-width="1"/>
<polygon points="1065.4,416.1 1073.9,414.4 1073.9,417.8" fill="#111"/>
<line x1="1056.2" y1="400" x2="1056.2" y2="420" stroke="#2e2e2e" stroke-width="1"/>
<line x1="1065.4" y1="400" x2="1065.4" y2="420" stroke="#2e2e2e" stroke-width="1"/>
<text x="1143" y="414.2" font-family='"Liberation Sans", sans-serif' font-size="18.99" fill="#161616" stroke="#161616" stroke-width="0.42" textLength="45" lengthAdjust="spacingAndGlyphs">0.80*8</text>
<line x1="1119" y1="422.3" x2="1254" y2="422.3" stroke="#2e2e2e" stroke-width="1"/>
<line x1="1103.7" y1="440.1" x2="1287.1" y2="440.1" stroke="#2e2e2e" stroke-width="1"/>
<line x1="1119" y1="443.1" x2="1241.7" y2="443.1" stroke="#2e2e2e" stroke-width="1"/>
<line x1="1238" y1="405" x2="1238" y2="422.3" stroke="#2e2e2e" stroke-width="1"/>
<polygon points="1238,422.3 1236.3,413.8 1239.7,413.8" fill="#111"/>
<line x1="1238" y1="443.1" x2="1238" y2="536.7" stroke="#2e2e2e" stroke-width="1"/>
<polygon points="1238,443.1 1236.3,451.6 1239.7,451.6" fill="#111"/>
<text font-family='"Liberation Sans", sans-serif' font-size="19.13" fill="#161616" textLength="44.5" lengthAdjust="spacingAndGlyphs" transform="translate(1235 536.7) rotate(-90)" stroke="#161616" stroke-width="0.42">1.90*2</text>
<line x1="1103.7" y1="444.7" x2="1103.7" y2="467.7" stroke="#2e2e2e" stroke-width="1"/>
<line x1="1119" y1="444.7" x2="1119" y2="467.7" stroke="#2e2e2e" stroke-width="1"/>
<line x1="1086.9" y1="464.6" x2="1103.7" y2="464.6" stroke="#2e2e2e" stroke-width="1"/>
<polygon points="1103.7,464.6 1095.2,462.9 1095.2,466.3" fill="#111"/>
<line x1="1119" y1="464.6" x2="1214.1" y2="464.6" stroke="#2e2e2e" stroke-width="1"/>
<polygon points="1119,464.6 1127.5,462.9 1127.5,466.3" fill="#111"/>
<text x="1167.5" y="462.2" font-family='"Liberation Sans", sans-serif' font-size="18.99" fill="#161616" stroke="#161616" stroke-width="0.42" textLength="45.1" lengthAdjust="spacingAndGlyphs">1.40*2</text>
<line x1="975" y1="475.3" x2="1048.5" y2="475.3" stroke="#2e2e2e" stroke-width="1"/>
<polygon points="1048.5,475.3 1040,473.6 1040,477" fill="#111"/>
<line x1="1060.2" y1="475.3" x2="1077.7" y2="475.3" stroke="#2e2e2e" stroke-width="1"/>
<polygon points="1060.2,475.3 1068.7,473.6 1068.7,477" fill="#111"/>
<line x1="1048.5" y1="401.7" x2="1048.5" y2="478" stroke="#2e2e2e" stroke-width="1"/>
<line x1="1060.2" y1="401.7" x2="1060.2" y2="573.5" stroke="#2e2e2e" stroke-width="1"/>
<text x="976.5" y="473.4" font-family='"Liberation Sans", sans-serif' font-size="18.99" fill="#161616" stroke="#161616" stroke-width="0.42" textLength="29" lengthAdjust="spacingAndGlyphs">1.10</text>
<line x1="913.6" y1="491.3" x2="1039.5" y2="491.3" stroke="#2e2e2e" stroke-width="1"/>
<polygon points="1039.5,491.3 1031,489.6 1031,493" fill="#111"/>
<line x1="1060.2" y1="491.3" x2="1077.7" y2="491.3" stroke="#2e2e2e" stroke-width="1"/>
<polygon points="1060.2,491.3 1068.7,489.6 1068.7,493" fill="#111"/>
<text x="915.1" y="489.4" font-family='"Liberation Sans", sans-serif' font-size="18.99" fill="#161616" stroke="#161616" stroke-width="0.42" textLength="30.7" lengthAdjust="spacingAndGlyphs">1.93</text>
<line x1="1066.9" y1="440" x2="1066.9" y2="502" stroke="#2e2e2e" stroke-width="1"/>
<line x1="1115.9" y1="443" x2="1115.9" y2="503" stroke="#2e2e2e" stroke-width="1"/>
<line x1="1066.9" y1="499.2" x2="1177.3" y2="499.2" stroke="#2e2e2e" stroke-width="1"/>
<polygon points="1066.9,499.2 1075.4,497.5 1075.4,500.9" fill="#111"/>
<polygon points="1115.9,499.2 1107.4,497.5 1107.4,500.9" fill="#111"/>
<text x="1144.5" y="497.6" font-family='"Liberation Sans", sans-serif' font-size="18.99" fill="#161616" stroke="#161616" stroke-width="0.42" textLength="29.8" lengthAdjust="spacingAndGlyphs">4.45</text>
<line x1="1039.5" y1="536" x2="1111.5" y2="536" stroke="#2e2e2e" stroke-width="1"/>
<polygon points="1039.5,536 1048,534.3 1048,537.7" fill="#111"/>
<polygon points="1111.5,536 1103,534.3 1103,537.7" fill="#111"/>
<text x="1060.2" y="533.6" font-family='"Liberation Sans", sans-serif' font-size="18.99" fill="#161616" stroke="#161616" stroke-width="0.42" textLength="30.2" lengthAdjust="spacingAndGlyphs">6.58</text>
<line x1="976.1" y1="432" x2="976.1" y2="573.5" stroke="#2e2e2e" stroke-width="1"/>
<line x1="976.1" y1="570" x2="1060.2" y2="570" stroke="#2e2e2e" stroke-width="1"/>
<polygon points="976.1,570 984.6,568.3 984.6,571.7" fill="#111"/>
<polygon points="1060.2,570 1051.7,568.3 1051.7,571.7" fill="#111"/>
<text x="976.5" y="567.4" font-family='"Liberation Sans", sans-serif' font-size="19.27" fill="#161616" stroke="#161616" stroke-width="0.42" textLength="84.5" lengthAdjust="spacingAndGlyphs">1.10*7=7.70</text>
<line x1="967.7" y1="605.5" x2="1111.5" y2="605.5" stroke="#2e2e2e" stroke-width="1"/>
<polygon points="967.7,605.5 976.2,603.8 976.2,607.2" fill="#111"/>
<polygon points="1111.5,605.5 1103,603.8 1103,607.2" fill="#111"/>
<text x="1020.7" y="602.9" font-family='"Liberation Sans", sans-serif' font-size="18.72" fill="#161616" stroke="#161616" stroke-width="0.41" textLength="38.2" lengthAdjust="spacingAndGlyphs">13.15</text>
</g>
</svg></body></html>
